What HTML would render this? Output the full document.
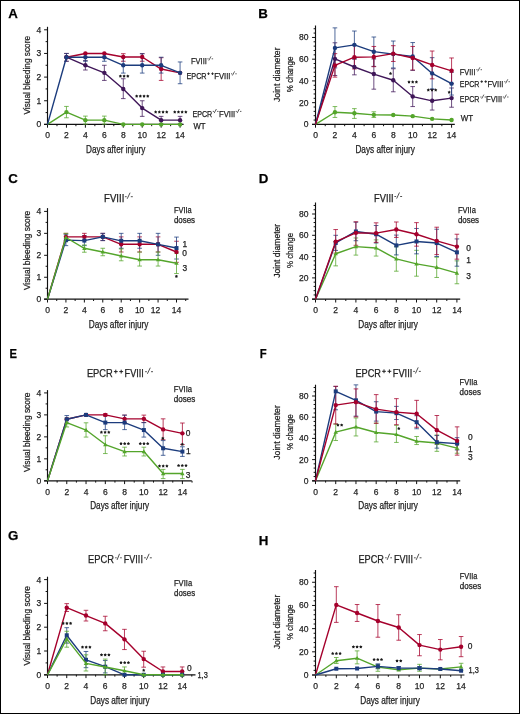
<!DOCTYPE html>
<html><head><meta charset="utf-8"><style>
html,body{margin:0;padding:0;background:#fff;}
svg{display:block;font-family:"Liberation Sans", sans-serif;will-change:transform;}
text{stroke:#1a1a1a;stroke-width:0.25px;paint-order:stroke;}
</style></head><body>
<svg width="520" height="714" viewBox="0 0 520 714">
<rect x="0" y="0" width="520" height="714" fill="#fff"/>
<line x1="47.50" y1="124.40" x2="47.50" y2="26.80" stroke="#111" stroke-width="1.15"/>
<line x1="44.10" y1="124.40" x2="183.60" y2="124.40" stroke="#111" stroke-width="1.2"/>
<line x1="44.10" y1="124.40" x2="47.50" y2="124.40" stroke="#111" stroke-width="1.0"/>
<text x="41.20" y="127.30" font-size="9.8" text-anchor="end" textLength="4.75" lengthAdjust="spacingAndGlyphs" fill="#222">0</text>
<line x1="44.10" y1="100.75" x2="47.50" y2="100.75" stroke="#111" stroke-width="1.0"/>
<text x="41.20" y="103.65" font-size="9.8" text-anchor="end" textLength="4.75" lengthAdjust="spacingAndGlyphs" fill="#222">1</text>
<line x1="44.10" y1="77.10" x2="47.50" y2="77.10" stroke="#111" stroke-width="1.0"/>
<text x="41.20" y="80.00" font-size="9.8" text-anchor="end" textLength="4.75" lengthAdjust="spacingAndGlyphs" fill="#222">2</text>
<line x1="44.10" y1="53.45" x2="47.50" y2="53.45" stroke="#111" stroke-width="1.0"/>
<text x="41.20" y="56.35" font-size="9.8" text-anchor="end" textLength="4.75" lengthAdjust="spacingAndGlyphs" fill="#222">3</text>
<line x1="44.10" y1="29.80" x2="47.50" y2="29.80" stroke="#111" stroke-width="1.0"/>
<text x="41.20" y="32.70" font-size="9.8" text-anchor="end" textLength="4.75" lengthAdjust="spacingAndGlyphs" fill="#222">4</text>
<line x1="45.60" y1="112.58" x2="47.50" y2="112.58" stroke="#111" stroke-width="1.0"/>
<line x1="45.60" y1="88.93" x2="47.50" y2="88.93" stroke="#111" stroke-width="1.0"/>
<line x1="45.60" y1="65.28" x2="47.50" y2="65.28" stroke="#111" stroke-width="1.0"/>
<line x1="45.60" y1="41.63" x2="47.50" y2="41.63" stroke="#111" stroke-width="1.0"/>
<line x1="47.50" y1="124.40" x2="47.50" y2="127.70" stroke="#111" stroke-width="1.0"/>
<line x1="66.44" y1="124.40" x2="66.44" y2="127.70" stroke="#111" stroke-width="1.0"/>
<line x1="85.38" y1="124.40" x2="85.38" y2="127.70" stroke="#111" stroke-width="1.0"/>
<line x1="104.33" y1="124.40" x2="104.33" y2="127.70" stroke="#111" stroke-width="1.0"/>
<line x1="123.27" y1="124.40" x2="123.27" y2="127.70" stroke="#111" stroke-width="1.0"/>
<line x1="142.21" y1="124.40" x2="142.21" y2="127.70" stroke="#111" stroke-width="1.0"/>
<line x1="161.15" y1="124.40" x2="161.15" y2="127.70" stroke="#111" stroke-width="1.0"/>
<line x1="180.09" y1="124.40" x2="180.09" y2="127.70" stroke="#111" stroke-width="1.0"/>
<line x1="56.97" y1="124.40" x2="56.97" y2="126.20" stroke="#111" stroke-width="1.0"/>
<line x1="75.91" y1="124.40" x2="75.91" y2="126.20" stroke="#111" stroke-width="1.0"/>
<line x1="94.86" y1="124.40" x2="94.86" y2="126.20" stroke="#111" stroke-width="1.0"/>
<line x1="113.80" y1="124.40" x2="113.80" y2="126.20" stroke="#111" stroke-width="1.0"/>
<line x1="132.74" y1="124.40" x2="132.74" y2="126.20" stroke="#111" stroke-width="1.0"/>
<line x1="151.68" y1="124.40" x2="151.68" y2="126.20" stroke="#111" stroke-width="1.0"/>
<line x1="170.62" y1="124.40" x2="170.62" y2="126.20" stroke="#111" stroke-width="1.0"/>
<text x="47.50" y="138.40" font-size="9.8" text-anchor="middle" textLength="4.75" lengthAdjust="spacingAndGlyphs" fill="#222">0</text>
<text x="66.44" y="138.40" font-size="9.8" text-anchor="middle" textLength="4.75" lengthAdjust="spacingAndGlyphs" fill="#222">2</text>
<text x="85.38" y="138.40" font-size="9.8" text-anchor="middle" textLength="4.75" lengthAdjust="spacingAndGlyphs" fill="#222">4</text>
<text x="104.33" y="138.40" font-size="9.8" text-anchor="middle" textLength="4.75" lengthAdjust="spacingAndGlyphs" fill="#222">6</text>
<text x="123.27" y="138.40" font-size="9.8" text-anchor="middle" textLength="4.75" lengthAdjust="spacingAndGlyphs" fill="#222">8</text>
<text x="142.21" y="138.40" font-size="9.8" text-anchor="middle" textLength="9.50" lengthAdjust="spacingAndGlyphs" fill="#222">10</text>
<text x="161.15" y="138.40" font-size="9.8" text-anchor="middle" textLength="9.50" lengthAdjust="spacingAndGlyphs" fill="#222">12</text>
<text x="180.09" y="138.40" font-size="9.8" text-anchor="middle" textLength="9.50" lengthAdjust="spacingAndGlyphs" fill="#222">14</text>
<text x="86.10" y="152.80" font-size="10.2" textLength="59.20" lengthAdjust="spacingAndGlyphs" fill="#222">Days after injury</text>
<text transform="translate(29.60,75.25) rotate(-90)" x="0" y="0" font-size="9.9" text-anchor="middle" textLength="78.70" lengthAdjust="spacingAndGlyphs" fill="#222">Visual bleeding score</text>
<line x1="66.44" y1="117.78" x2="66.44" y2="106.43" stroke="#54a52b" stroke-width="0.9" stroke-opacity="0.85"/>
<line x1="64.14" y1="117.78" x2="68.74" y2="117.78" stroke="#54a52b" stroke-width="0.9" stroke-opacity="0.85"/>
<line x1="64.14" y1="106.43" x2="68.74" y2="106.43" stroke="#54a52b" stroke-width="0.9" stroke-opacity="0.85"/>
<line x1="85.38" y1="124.16" x2="85.38" y2="116.12" stroke="#54a52b" stroke-width="0.9" stroke-opacity="0.85"/>
<line x1="83.08" y1="124.16" x2="87.68" y2="124.16" stroke="#54a52b" stroke-width="0.9" stroke-opacity="0.85"/>
<line x1="83.08" y1="116.12" x2="87.68" y2="116.12" stroke="#54a52b" stroke-width="0.9" stroke-opacity="0.85"/>
<line x1="104.33" y1="124.16" x2="104.33" y2="116.12" stroke="#54a52b" stroke-width="0.9" stroke-opacity="0.85"/>
<line x1="102.03" y1="124.16" x2="106.63" y2="124.16" stroke="#54a52b" stroke-width="0.9" stroke-opacity="0.85"/>
<line x1="102.03" y1="116.12" x2="106.63" y2="116.12" stroke="#54a52b" stroke-width="0.9" stroke-opacity="0.85"/>
<line x1="85.38" y1="70.01" x2="85.38" y2="60.55" stroke="#3f1658" stroke-width="0.9" stroke-opacity="0.85"/>
<line x1="83.08" y1="70.01" x2="87.68" y2="70.01" stroke="#3f1658" stroke-width="0.9" stroke-opacity="0.85"/>
<line x1="83.08" y1="60.55" x2="87.68" y2="60.55" stroke="#3f1658" stroke-width="0.9" stroke-opacity="0.85"/>
<line x1="104.33" y1="80.41" x2="104.33" y2="65.28" stroke="#3f1658" stroke-width="0.9" stroke-opacity="0.85"/>
<line x1="102.03" y1="80.41" x2="106.63" y2="80.41" stroke="#3f1658" stroke-width="0.9" stroke-opacity="0.85"/>
<line x1="102.03" y1="65.28" x2="106.63" y2="65.28" stroke="#3f1658" stroke-width="0.9" stroke-opacity="0.85"/>
<line x1="123.27" y1="98.62" x2="123.27" y2="78.76" stroke="#3f1658" stroke-width="0.9" stroke-opacity="0.85"/>
<line x1="120.97" y1="98.62" x2="125.57" y2="98.62" stroke="#3f1658" stroke-width="0.9" stroke-opacity="0.85"/>
<line x1="120.97" y1="78.76" x2="125.57" y2="78.76" stroke="#3f1658" stroke-width="0.9" stroke-opacity="0.85"/>
<line x1="142.21" y1="116.36" x2="142.21" y2="100.75" stroke="#3f1658" stroke-width="0.9" stroke-opacity="0.85"/>
<line x1="139.91" y1="116.36" x2="144.51" y2="116.36" stroke="#3f1658" stroke-width="0.9" stroke-opacity="0.85"/>
<line x1="139.91" y1="100.75" x2="144.51" y2="100.75" stroke="#3f1658" stroke-width="0.9" stroke-opacity="0.85"/>
<line x1="161.15" y1="123.93" x2="161.15" y2="116.36" stroke="#3f1658" stroke-width="0.9" stroke-opacity="0.85"/>
<line x1="158.85" y1="123.93" x2="163.45" y2="123.93" stroke="#3f1658" stroke-width="0.9" stroke-opacity="0.85"/>
<line x1="158.85" y1="116.36" x2="163.45" y2="116.36" stroke="#3f1658" stroke-width="0.9" stroke-opacity="0.85"/>
<line x1="180.09" y1="123.93" x2="180.09" y2="116.36" stroke="#3f1658" stroke-width="0.9" stroke-opacity="0.85"/>
<line x1="177.79" y1="123.93" x2="182.39" y2="123.93" stroke="#3f1658" stroke-width="0.9" stroke-opacity="0.85"/>
<line x1="177.79" y1="116.36" x2="182.39" y2="116.36" stroke="#3f1658" stroke-width="0.9" stroke-opacity="0.85"/>
<line x1="66.44" y1="61.25" x2="66.44" y2="53.45" stroke="#a5002c" stroke-width="0.9" stroke-opacity="0.85"/>
<line x1="64.14" y1="61.25" x2="68.74" y2="61.25" stroke="#a5002c" stroke-width="0.9" stroke-opacity="0.85"/>
<line x1="64.14" y1="53.45" x2="68.74" y2="53.45" stroke="#a5002c" stroke-width="0.9" stroke-opacity="0.85"/>
<line x1="85.38" y1="57.23" x2="85.38" y2="53.45" stroke="#a5002c" stroke-width="0.9" stroke-opacity="0.85"/>
<line x1="83.08" y1="57.23" x2="87.68" y2="57.23" stroke="#a5002c" stroke-width="0.9" stroke-opacity="0.85"/>
<line x1="83.08" y1="53.45" x2="87.68" y2="53.45" stroke="#a5002c" stroke-width="0.9" stroke-opacity="0.85"/>
<line x1="104.33" y1="57.23" x2="104.33" y2="53.45" stroke="#a5002c" stroke-width="0.9" stroke-opacity="0.85"/>
<line x1="102.03" y1="57.23" x2="106.63" y2="57.23" stroke="#a5002c" stroke-width="0.9" stroke-opacity="0.85"/>
<line x1="102.03" y1="53.45" x2="106.63" y2="53.45" stroke="#a5002c" stroke-width="0.9" stroke-opacity="0.85"/>
<line x1="123.27" y1="61.25" x2="123.27" y2="53.69" stroke="#a5002c" stroke-width="0.9" stroke-opacity="0.85"/>
<line x1="120.97" y1="61.25" x2="125.57" y2="61.25" stroke="#a5002c" stroke-width="0.9" stroke-opacity="0.85"/>
<line x1="120.97" y1="53.69" x2="125.57" y2="53.69" stroke="#a5002c" stroke-width="0.9" stroke-opacity="0.85"/>
<line x1="142.21" y1="61.25" x2="142.21" y2="53.69" stroke="#a5002c" stroke-width="0.9" stroke-opacity="0.85"/>
<line x1="139.91" y1="61.25" x2="144.51" y2="61.25" stroke="#a5002c" stroke-width="0.9" stroke-opacity="0.85"/>
<line x1="139.91" y1="53.69" x2="144.51" y2="53.69" stroke="#a5002c" stroke-width="0.9" stroke-opacity="0.85"/>
<line x1="161.15" y1="80.41" x2="161.15" y2="57.71" stroke="#a5002c" stroke-width="0.9" stroke-opacity="0.85"/>
<line x1="158.85" y1="80.41" x2="163.45" y2="80.41" stroke="#a5002c" stroke-width="0.9" stroke-opacity="0.85"/>
<line x1="158.85" y1="57.71" x2="163.45" y2="57.71" stroke="#a5002c" stroke-width="0.9" stroke-opacity="0.85"/>
<line x1="66.44" y1="61.25" x2="66.44" y2="53.45" stroke="#1c3c7d" stroke-width="0.9" stroke-opacity="0.85"/>
<line x1="64.14" y1="61.25" x2="68.74" y2="61.25" stroke="#1c3c7d" stroke-width="0.9" stroke-opacity="0.85"/>
<line x1="64.14" y1="53.45" x2="68.74" y2="53.45" stroke="#1c3c7d" stroke-width="0.9" stroke-opacity="0.85"/>
<line x1="85.38" y1="61.25" x2="85.38" y2="53.45" stroke="#1c3c7d" stroke-width="0.9" stroke-opacity="0.85"/>
<line x1="83.08" y1="61.25" x2="87.68" y2="61.25" stroke="#1c3c7d" stroke-width="0.9" stroke-opacity="0.85"/>
<line x1="83.08" y1="53.45" x2="87.68" y2="53.45" stroke="#1c3c7d" stroke-width="0.9" stroke-opacity="0.85"/>
<line x1="104.33" y1="61.25" x2="104.33" y2="53.45" stroke="#1c3c7d" stroke-width="0.9" stroke-opacity="0.85"/>
<line x1="102.03" y1="61.25" x2="106.63" y2="61.25" stroke="#1c3c7d" stroke-width="0.9" stroke-opacity="0.85"/>
<line x1="102.03" y1="53.45" x2="106.63" y2="53.45" stroke="#1c3c7d" stroke-width="0.9" stroke-opacity="0.85"/>
<line x1="123.27" y1="73.08" x2="123.27" y2="57.23" stroke="#1c3c7d" stroke-width="0.9" stroke-opacity="0.85"/>
<line x1="120.97" y1="73.08" x2="125.57" y2="73.08" stroke="#1c3c7d" stroke-width="0.9" stroke-opacity="0.85"/>
<line x1="120.97" y1="57.23" x2="125.57" y2="57.23" stroke="#1c3c7d" stroke-width="0.9" stroke-opacity="0.85"/>
<line x1="142.21" y1="73.08" x2="142.21" y2="53.69" stroke="#1c3c7d" stroke-width="0.9" stroke-opacity="0.85"/>
<line x1="139.91" y1="73.08" x2="144.51" y2="73.08" stroke="#1c3c7d" stroke-width="0.9" stroke-opacity="0.85"/>
<line x1="139.91" y1="53.69" x2="144.51" y2="53.69" stroke="#1c3c7d" stroke-width="0.9" stroke-opacity="0.85"/>
<line x1="161.15" y1="73.08" x2="161.15" y2="57.23" stroke="#1c3c7d" stroke-width="0.9" stroke-opacity="0.85"/>
<line x1="158.85" y1="73.08" x2="163.45" y2="73.08" stroke="#1c3c7d" stroke-width="0.9" stroke-opacity="0.85"/>
<line x1="158.85" y1="57.23" x2="163.45" y2="57.23" stroke="#1c3c7d" stroke-width="0.9" stroke-opacity="0.85"/>
<line x1="180.09" y1="83.72" x2="180.09" y2="61.96" stroke="#1c3c7d" stroke-width="0.9" stroke-opacity="0.85"/>
<line x1="177.79" y1="83.72" x2="182.39" y2="83.72" stroke="#1c3c7d" stroke-width="0.9" stroke-opacity="0.85"/>
<line x1="177.79" y1="61.96" x2="182.39" y2="61.96" stroke="#1c3c7d" stroke-width="0.9" stroke-opacity="0.85"/>
<polyline points="47.50,124.40 66.44,112.10 85.38,120.14 104.33,120.14 123.27,124.40 142.21,124.40 161.15,124.40 180.09,124.40" fill="none" stroke="#54a52b" stroke-width="1.4" stroke-linejoin="round"/>
<circle cx="66.44" cy="112.10" r="2.2" fill="#54a52b"/>
<circle cx="85.38" cy="120.14" r="2.2" fill="#54a52b"/>
<circle cx="104.33" cy="120.14" r="2.2" fill="#54a52b"/>
<circle cx="123.27" cy="124.40" r="2.2" fill="#54a52b"/>
<circle cx="142.21" cy="124.40" r="2.2" fill="#54a52b"/>
<circle cx="161.15" cy="124.40" r="2.2" fill="#54a52b"/>
<circle cx="180.09" cy="124.40" r="2.2" fill="#54a52b"/>
<polyline points="66.44,57.23 85.38,65.28 104.33,72.84 123.27,88.93 142.21,108.08 161.15,120.14 180.09,120.14" fill="none" stroke="#3f1658" stroke-width="1.4" stroke-linejoin="round"/>
<circle cx="66.44" cy="57.23" r="2.2" fill="#3f1658"/>
<circle cx="85.38" cy="65.28" r="2.2" fill="#3f1658"/>
<circle cx="104.33" cy="72.84" r="2.2" fill="#3f1658"/>
<circle cx="123.27" cy="88.93" r="2.2" fill="#3f1658"/>
<circle cx="142.21" cy="108.08" r="2.2" fill="#3f1658"/>
<circle cx="161.15" cy="120.14" r="2.2" fill="#3f1658"/>
<circle cx="180.09" cy="120.14" r="2.2" fill="#3f1658"/>
<polyline points="66.44,57.23 85.38,53.45 104.33,53.45 123.27,57.00 142.21,57.00 161.15,69.06 180.09,72.84" fill="none" stroke="#a5002c" stroke-width="1.4" stroke-linejoin="round"/>
<circle cx="66.44" cy="57.23" r="2.2" fill="#a5002c"/>
<circle cx="85.38" cy="53.45" r="2.2" fill="#a5002c"/>
<circle cx="104.33" cy="53.45" r="2.2" fill="#a5002c"/>
<circle cx="123.27" cy="57.00" r="2.2" fill="#a5002c"/>
<circle cx="142.21" cy="57.00" r="2.2" fill="#a5002c"/>
<circle cx="161.15" cy="69.06" r="2.2" fill="#a5002c"/>
<circle cx="180.09" cy="72.84" r="2.2" fill="#a5002c"/>
<polyline points="47.50,124.40 66.44,57.23 85.38,57.23 104.33,57.23 123.27,65.28 142.21,65.28 161.15,65.28 180.09,72.84" fill="none" stroke="#1c3c7d" stroke-width="1.4" stroke-linejoin="round"/>
<circle cx="66.44" cy="57.23" r="2.2" fill="#1c3c7d"/>
<circle cx="85.38" cy="57.23" r="2.2" fill="#1c3c7d"/>
<circle cx="104.33" cy="57.23" r="2.2" fill="#1c3c7d"/>
<circle cx="123.27" cy="65.28" r="2.2" fill="#1c3c7d"/>
<circle cx="142.21" cy="65.28" r="2.2" fill="#1c3c7d"/>
<circle cx="161.15" cy="65.28" r="2.2" fill="#1c3c7d"/>
<circle cx="180.09" cy="72.84" r="2.2" fill="#1c3c7d"/>
<polygon points="120.40,74.50 119.80,75.37 118.78,75.67 119.43,76.52 119.40,77.58 120.40,77.22 121.40,77.58 121.37,76.52 122.02,75.67 121.00,75.37" fill="#1a1a1a"/>
<polygon points="124.10,74.50 123.50,75.37 122.48,75.67 123.13,76.52 123.10,77.58 124.10,77.22 125.10,77.58 125.07,76.52 125.72,75.67 124.70,75.37" fill="#1a1a1a"/>
<polygon points="127.80,74.50 127.20,75.37 126.18,75.67 126.83,76.52 126.80,77.58 127.80,77.22 128.80,77.58 128.77,76.52 129.42,75.67 128.40,75.37" fill="#1a1a1a"/>
<polygon points="136.65,94.50 136.05,95.37 135.03,95.67 135.68,96.52 135.65,97.58 136.65,97.22 137.65,97.58 137.62,96.52 138.27,95.67 137.25,95.37" fill="#1a1a1a"/>
<polygon points="140.35,94.50 139.75,95.37 138.73,95.67 139.38,96.52 139.35,97.58 140.35,97.22 141.35,97.58 141.32,96.52 141.97,95.67 140.95,95.37" fill="#1a1a1a"/>
<polygon points="144.05,94.50 143.45,95.37 142.43,95.67 143.08,96.52 143.05,97.58 144.05,97.22 145.05,97.58 145.02,96.52 145.67,95.67 144.65,95.37" fill="#1a1a1a"/>
<polygon points="147.75,94.50 147.15,95.37 146.13,95.67 146.78,96.52 146.75,97.58 147.75,97.22 148.75,97.58 148.72,96.52 149.37,95.67 148.35,95.37" fill="#1a1a1a"/>
<polygon points="155.65,110.30 155.05,111.17 154.03,111.47 154.68,112.32 154.65,113.38 155.65,113.02 156.65,113.38 156.62,112.32 157.27,111.47 156.25,111.17" fill="#1a1a1a"/>
<polygon points="159.35,110.30 158.75,111.17 157.73,111.47 158.38,112.32 158.35,113.38 159.35,113.02 160.35,113.38 160.32,112.32 160.97,111.47 159.95,111.17" fill="#1a1a1a"/>
<polygon points="163.05,110.30 162.45,111.17 161.43,111.47 162.08,112.32 162.05,113.38 163.05,113.02 164.05,113.38 164.02,112.32 164.67,111.47 163.65,111.17" fill="#1a1a1a"/>
<polygon points="166.75,110.30 166.15,111.17 165.13,111.47 165.78,112.32 165.75,113.38 166.75,113.02 167.75,113.38 167.72,112.32 168.37,111.47 167.35,111.17" fill="#1a1a1a"/>
<polygon points="174.75,110.30 174.15,111.17 173.13,111.47 173.78,112.32 173.75,113.38 174.75,113.02 175.75,113.38 175.72,112.32 176.37,111.47 175.35,111.17" fill="#1a1a1a"/>
<polygon points="178.45,110.30 177.85,111.17 176.83,111.47 177.48,112.32 177.45,113.38 178.45,113.02 179.45,113.38 179.42,112.32 180.07,111.47 179.05,111.17" fill="#1a1a1a"/>
<polygon points="182.15,110.30 181.55,111.17 180.53,111.47 181.18,112.32 181.15,113.38 182.15,113.02 183.15,113.38 183.12,112.32 183.77,111.47 182.75,111.17" fill="#1a1a1a"/>
<polygon points="185.85,110.30 185.25,111.17 184.23,111.47 184.88,112.32 184.85,113.38 185.85,113.02 186.85,113.38 186.82,112.32 187.47,111.47 186.45,111.17" fill="#1a1a1a"/>
<line x1="315.50" y1="124.40" x2="315.50" y2="25.50" stroke="#111" stroke-width="1.15"/>
<line x1="312.10" y1="124.40" x2="454.80" y2="124.40" stroke="#111" stroke-width="1.2"/>
<line x1="312.10" y1="124.40" x2="315.50" y2="124.40" stroke="#111" stroke-width="1.0"/>
<text x="308.60" y="127.30" font-size="9.8" text-anchor="end" textLength="4.75" lengthAdjust="spacingAndGlyphs" fill="#222">0</text>
<line x1="312.10" y1="102.66" x2="315.50" y2="102.66" stroke="#111" stroke-width="1.0"/>
<text x="308.60" y="105.56" font-size="9.8" text-anchor="end" textLength="9.50" lengthAdjust="spacingAndGlyphs" fill="#222">20</text>
<line x1="312.10" y1="80.92" x2="315.50" y2="80.92" stroke="#111" stroke-width="1.0"/>
<text x="308.60" y="83.82" font-size="9.8" text-anchor="end" textLength="9.50" lengthAdjust="spacingAndGlyphs" fill="#222">40</text>
<line x1="312.10" y1="59.18" x2="315.50" y2="59.18" stroke="#111" stroke-width="1.0"/>
<text x="308.60" y="62.08" font-size="9.8" text-anchor="end" textLength="9.50" lengthAdjust="spacingAndGlyphs" fill="#222">60</text>
<line x1="312.10" y1="37.44" x2="315.50" y2="37.44" stroke="#111" stroke-width="1.0"/>
<text x="308.60" y="40.34" font-size="9.8" text-anchor="end" textLength="9.50" lengthAdjust="spacingAndGlyphs" fill="#222">80</text>
<line x1="313.60" y1="120.05" x2="315.50" y2="120.05" stroke="#111" stroke-width="1.0"/>
<line x1="313.60" y1="115.70" x2="315.50" y2="115.70" stroke="#111" stroke-width="1.0"/>
<line x1="313.60" y1="111.36" x2="315.50" y2="111.36" stroke="#111" stroke-width="1.0"/>
<line x1="313.60" y1="107.01" x2="315.50" y2="107.01" stroke="#111" stroke-width="1.0"/>
<line x1="313.60" y1="98.31" x2="315.50" y2="98.31" stroke="#111" stroke-width="1.0"/>
<line x1="313.60" y1="93.96" x2="315.50" y2="93.96" stroke="#111" stroke-width="1.0"/>
<line x1="313.60" y1="89.62" x2="315.50" y2="89.62" stroke="#111" stroke-width="1.0"/>
<line x1="313.60" y1="85.27" x2="315.50" y2="85.27" stroke="#111" stroke-width="1.0"/>
<line x1="313.60" y1="76.57" x2="315.50" y2="76.57" stroke="#111" stroke-width="1.0"/>
<line x1="313.60" y1="72.22" x2="315.50" y2="72.22" stroke="#111" stroke-width="1.0"/>
<line x1="313.60" y1="67.88" x2="315.50" y2="67.88" stroke="#111" stroke-width="1.0"/>
<line x1="313.60" y1="63.53" x2="315.50" y2="63.53" stroke="#111" stroke-width="1.0"/>
<line x1="313.60" y1="54.83" x2="315.50" y2="54.83" stroke="#111" stroke-width="1.0"/>
<line x1="313.60" y1="50.48" x2="315.50" y2="50.48" stroke="#111" stroke-width="1.0"/>
<line x1="313.60" y1="46.14" x2="315.50" y2="46.14" stroke="#111" stroke-width="1.0"/>
<line x1="313.60" y1="41.79" x2="315.50" y2="41.79" stroke="#111" stroke-width="1.0"/>
<line x1="313.60" y1="33.09" x2="315.50" y2="33.09" stroke="#111" stroke-width="1.0"/>
<line x1="313.60" y1="28.74" x2="315.50" y2="28.74" stroke="#111" stroke-width="1.0"/>
<line x1="315.50" y1="124.40" x2="315.50" y2="127.70" stroke="#111" stroke-width="1.0"/>
<line x1="334.94" y1="124.40" x2="334.94" y2="127.70" stroke="#111" stroke-width="1.0"/>
<line x1="354.38" y1="124.40" x2="354.38" y2="127.70" stroke="#111" stroke-width="1.0"/>
<line x1="373.83" y1="124.40" x2="373.83" y2="127.70" stroke="#111" stroke-width="1.0"/>
<line x1="393.27" y1="124.40" x2="393.27" y2="127.70" stroke="#111" stroke-width="1.0"/>
<line x1="412.71" y1="124.40" x2="412.71" y2="127.70" stroke="#111" stroke-width="1.0"/>
<line x1="432.15" y1="124.40" x2="432.15" y2="127.70" stroke="#111" stroke-width="1.0"/>
<line x1="451.59" y1="124.40" x2="451.59" y2="127.70" stroke="#111" stroke-width="1.0"/>
<line x1="325.22" y1="124.40" x2="325.22" y2="126.20" stroke="#111" stroke-width="1.0"/>
<line x1="344.66" y1="124.40" x2="344.66" y2="126.20" stroke="#111" stroke-width="1.0"/>
<line x1="364.11" y1="124.40" x2="364.11" y2="126.20" stroke="#111" stroke-width="1.0"/>
<line x1="383.55" y1="124.40" x2="383.55" y2="126.20" stroke="#111" stroke-width="1.0"/>
<line x1="402.99" y1="124.40" x2="402.99" y2="126.20" stroke="#111" stroke-width="1.0"/>
<line x1="422.43" y1="124.40" x2="422.43" y2="126.20" stroke="#111" stroke-width="1.0"/>
<line x1="441.87" y1="124.40" x2="441.87" y2="126.20" stroke="#111" stroke-width="1.0"/>
<text x="315.50" y="138.40" font-size="9.8" text-anchor="middle" textLength="4.75" lengthAdjust="spacingAndGlyphs" fill="#222">0</text>
<text x="334.94" y="138.40" font-size="9.8" text-anchor="middle" textLength="4.75" lengthAdjust="spacingAndGlyphs" fill="#222">2</text>
<text x="354.38" y="138.40" font-size="9.8" text-anchor="middle" textLength="4.75" lengthAdjust="spacingAndGlyphs" fill="#222">4</text>
<text x="373.83" y="138.40" font-size="9.8" text-anchor="middle" textLength="4.75" lengthAdjust="spacingAndGlyphs" fill="#222">6</text>
<text x="393.27" y="138.40" font-size="9.8" text-anchor="middle" textLength="4.75" lengthAdjust="spacingAndGlyphs" fill="#222">8</text>
<text x="412.71" y="138.40" font-size="9.8" text-anchor="middle" textLength="9.50" lengthAdjust="spacingAndGlyphs" fill="#222">10</text>
<text x="432.15" y="138.40" font-size="9.8" text-anchor="middle" textLength="9.50" lengthAdjust="spacingAndGlyphs" fill="#222">12</text>
<text x="451.59" y="138.40" font-size="9.8" text-anchor="middle" textLength="9.50" lengthAdjust="spacingAndGlyphs" fill="#222">14</text>
<text x="355.40" y="152.60" font-size="10.2" textLength="59.60" lengthAdjust="spacingAndGlyphs" fill="#222">Days after injury</text>
<text transform="translate(280.40,74.70) rotate(-90)" x="0" y="0" font-size="9.9" text-anchor="middle" textLength="54.60" lengthAdjust="spacingAndGlyphs" fill="#222">Joint diameter</text>
<text transform="translate(292.50,74.35) rotate(-90)" x="0" y="0" font-size="9.9" text-anchor="middle" textLength="35.70" lengthAdjust="spacingAndGlyphs" fill="#222">% change</text>
<line x1="334.94" y1="117.44" x2="334.94" y2="106.57" stroke="#54a52b" stroke-width="0.9" stroke-opacity="0.85"/>
<line x1="332.64" y1="117.44" x2="337.24" y2="117.44" stroke="#54a52b" stroke-width="0.9" stroke-opacity="0.85"/>
<line x1="332.64" y1="106.57" x2="337.24" y2="106.57" stroke="#54a52b" stroke-width="0.9" stroke-opacity="0.85"/>
<line x1="354.38" y1="118.42" x2="354.38" y2="108.64" stroke="#54a52b" stroke-width="0.9" stroke-opacity="0.85"/>
<line x1="352.08" y1="118.42" x2="356.68" y2="118.42" stroke="#54a52b" stroke-width="0.9" stroke-opacity="0.85"/>
<line x1="352.08" y1="108.64" x2="356.68" y2="108.64" stroke="#54a52b" stroke-width="0.9" stroke-opacity="0.85"/>
<line x1="373.83" y1="117.44" x2="373.83" y2="111.79" stroke="#54a52b" stroke-width="0.9" stroke-opacity="0.85"/>
<line x1="371.53" y1="117.44" x2="376.13" y2="117.44" stroke="#54a52b" stroke-width="0.9" stroke-opacity="0.85"/>
<line x1="371.53" y1="111.79" x2="376.13" y2="111.79" stroke="#54a52b" stroke-width="0.9" stroke-opacity="0.85"/>
<line x1="334.94" y1="75.49" x2="334.94" y2="42.77" stroke="#3f1658" stroke-width="0.9" stroke-opacity="0.85"/>
<line x1="332.64" y1="75.49" x2="337.24" y2="75.49" stroke="#3f1658" stroke-width="0.9" stroke-opacity="0.85"/>
<line x1="332.64" y1="42.77" x2="337.24" y2="42.77" stroke="#3f1658" stroke-width="0.9" stroke-opacity="0.85"/>
<line x1="354.38" y1="74.83" x2="354.38" y2="59.18" stroke="#3f1658" stroke-width="0.9" stroke-opacity="0.85"/>
<line x1="352.08" y1="74.83" x2="356.68" y2="74.83" stroke="#3f1658" stroke-width="0.9" stroke-opacity="0.85"/>
<line x1="352.08" y1="59.18" x2="356.68" y2="59.18" stroke="#3f1658" stroke-width="0.9" stroke-opacity="0.85"/>
<line x1="373.83" y1="89.18" x2="373.83" y2="58.96" stroke="#3f1658" stroke-width="0.9" stroke-opacity="0.85"/>
<line x1="371.53" y1="89.18" x2="376.13" y2="89.18" stroke="#3f1658" stroke-width="0.9" stroke-opacity="0.85"/>
<line x1="371.53" y1="58.96" x2="376.13" y2="58.96" stroke="#3f1658" stroke-width="0.9" stroke-opacity="0.85"/>
<line x1="393.27" y1="91.79" x2="393.27" y2="68.75" stroke="#3f1658" stroke-width="0.9" stroke-opacity="0.85"/>
<line x1="390.97" y1="91.79" x2="395.57" y2="91.79" stroke="#3f1658" stroke-width="0.9" stroke-opacity="0.85"/>
<line x1="390.97" y1="68.75" x2="395.57" y2="68.75" stroke="#3f1658" stroke-width="0.9" stroke-opacity="0.85"/>
<line x1="412.71" y1="106.57" x2="412.71" y2="86.57" stroke="#3f1658" stroke-width="0.9" stroke-opacity="0.85"/>
<line x1="410.41" y1="106.57" x2="415.01" y2="106.57" stroke="#3f1658" stroke-width="0.9" stroke-opacity="0.85"/>
<line x1="410.41" y1="86.57" x2="415.01" y2="86.57" stroke="#3f1658" stroke-width="0.9" stroke-opacity="0.85"/>
<line x1="432.15" y1="110.05" x2="432.15" y2="89.51" stroke="#3f1658" stroke-width="0.9" stroke-opacity="0.85"/>
<line x1="429.85" y1="110.05" x2="434.45" y2="110.05" stroke="#3f1658" stroke-width="0.9" stroke-opacity="0.85"/>
<line x1="429.85" y1="89.51" x2="434.45" y2="89.51" stroke="#3f1658" stroke-width="0.9" stroke-opacity="0.85"/>
<line x1="451.59" y1="107.23" x2="451.59" y2="87.99" stroke="#3f1658" stroke-width="0.9" stroke-opacity="0.85"/>
<line x1="449.29" y1="107.23" x2="453.89" y2="107.23" stroke="#3f1658" stroke-width="0.9" stroke-opacity="0.85"/>
<line x1="449.29" y1="87.99" x2="453.89" y2="87.99" stroke="#3f1658" stroke-width="0.9" stroke-opacity="0.85"/>
<line x1="334.94" y1="67.88" x2="334.94" y2="27.87" stroke="#1c3c7d" stroke-width="0.9" stroke-opacity="0.85"/>
<line x1="332.64" y1="67.88" x2="337.24" y2="67.88" stroke="#1c3c7d" stroke-width="0.9" stroke-opacity="0.85"/>
<line x1="332.64" y1="27.87" x2="337.24" y2="27.87" stroke="#1c3c7d" stroke-width="0.9" stroke-opacity="0.85"/>
<line x1="354.38" y1="58.64" x2="354.38" y2="31.03" stroke="#1c3c7d" stroke-width="0.9" stroke-opacity="0.85"/>
<line x1="352.08" y1="58.64" x2="356.68" y2="58.64" stroke="#1c3c7d" stroke-width="0.9" stroke-opacity="0.85"/>
<line x1="352.08" y1="31.03" x2="356.68" y2="31.03" stroke="#1c3c7d" stroke-width="0.9" stroke-opacity="0.85"/>
<line x1="373.83" y1="66.35" x2="373.83" y2="37.01" stroke="#1c3c7d" stroke-width="0.9" stroke-opacity="0.85"/>
<line x1="371.53" y1="66.35" x2="376.13" y2="66.35" stroke="#1c3c7d" stroke-width="0.9" stroke-opacity="0.85"/>
<line x1="371.53" y1="37.01" x2="376.13" y2="37.01" stroke="#1c3c7d" stroke-width="0.9" stroke-opacity="0.85"/>
<line x1="393.27" y1="67.98" x2="393.27" y2="41.03" stroke="#1c3c7d" stroke-width="0.9" stroke-opacity="0.85"/>
<line x1="390.97" y1="67.98" x2="395.57" y2="67.98" stroke="#1c3c7d" stroke-width="0.9" stroke-opacity="0.85"/>
<line x1="390.97" y1="41.03" x2="395.57" y2="41.03" stroke="#1c3c7d" stroke-width="0.9" stroke-opacity="0.85"/>
<line x1="412.71" y1="70.38" x2="412.71" y2="42.55" stroke="#1c3c7d" stroke-width="0.9" stroke-opacity="0.85"/>
<line x1="410.41" y1="70.38" x2="415.01" y2="70.38" stroke="#1c3c7d" stroke-width="0.9" stroke-opacity="0.85"/>
<line x1="410.41" y1="42.55" x2="415.01" y2="42.55" stroke="#1c3c7d" stroke-width="0.9" stroke-opacity="0.85"/>
<line x1="432.15" y1="88.86" x2="432.15" y2="57.66" stroke="#1c3c7d" stroke-width="0.9" stroke-opacity="0.85"/>
<line x1="429.85" y1="88.86" x2="434.45" y2="88.86" stroke="#1c3c7d" stroke-width="0.9" stroke-opacity="0.85"/>
<line x1="429.85" y1="57.66" x2="434.45" y2="57.66" stroke="#1c3c7d" stroke-width="0.9" stroke-opacity="0.85"/>
<line x1="451.59" y1="95.05" x2="451.59" y2="72.22" stroke="#1c3c7d" stroke-width="0.9" stroke-opacity="0.85"/>
<line x1="449.29" y1="95.05" x2="453.89" y2="95.05" stroke="#1c3c7d" stroke-width="0.9" stroke-opacity="0.85"/>
<line x1="449.29" y1="72.22" x2="453.89" y2="72.22" stroke="#1c3c7d" stroke-width="0.9" stroke-opacity="0.85"/>
<line x1="334.94" y1="77.12" x2="334.94" y2="53.64" stroke="#a5002c" stroke-width="0.9" stroke-opacity="0.85"/>
<line x1="332.64" y1="77.12" x2="337.24" y2="77.12" stroke="#a5002c" stroke-width="0.9" stroke-opacity="0.85"/>
<line x1="332.64" y1="53.64" x2="337.24" y2="53.64" stroke="#a5002c" stroke-width="0.9" stroke-opacity="0.85"/>
<line x1="354.38" y1="68.96" x2="354.38" y2="45.48" stroke="#a5002c" stroke-width="0.9" stroke-opacity="0.85"/>
<line x1="352.08" y1="68.96" x2="356.68" y2="68.96" stroke="#a5002c" stroke-width="0.9" stroke-opacity="0.85"/>
<line x1="352.08" y1="45.48" x2="356.68" y2="45.48" stroke="#a5002c" stroke-width="0.9" stroke-opacity="0.85"/>
<line x1="373.83" y1="66.68" x2="373.83" y2="46.46" stroke="#a5002c" stroke-width="0.9" stroke-opacity="0.85"/>
<line x1="371.53" y1="66.68" x2="376.13" y2="66.68" stroke="#a5002c" stroke-width="0.9" stroke-opacity="0.85"/>
<line x1="371.53" y1="46.46" x2="376.13" y2="46.46" stroke="#a5002c" stroke-width="0.9" stroke-opacity="0.85"/>
<line x1="393.27" y1="61.46" x2="393.27" y2="45.70" stroke="#a5002c" stroke-width="0.9" stroke-opacity="0.85"/>
<line x1="390.97" y1="61.46" x2="395.57" y2="61.46" stroke="#a5002c" stroke-width="0.9" stroke-opacity="0.85"/>
<line x1="390.97" y1="45.70" x2="395.57" y2="45.70" stroke="#a5002c" stroke-width="0.9" stroke-opacity="0.85"/>
<line x1="412.71" y1="70.05" x2="412.71" y2="46.46" stroke="#a5002c" stroke-width="0.9" stroke-opacity="0.85"/>
<line x1="410.41" y1="70.05" x2="415.01" y2="70.05" stroke="#a5002c" stroke-width="0.9" stroke-opacity="0.85"/>
<line x1="410.41" y1="46.46" x2="415.01" y2="46.46" stroke="#a5002c" stroke-width="0.9" stroke-opacity="0.85"/>
<line x1="432.15" y1="78.85" x2="432.15" y2="51.03" stroke="#a5002c" stroke-width="0.9" stroke-opacity="0.85"/>
<line x1="429.85" y1="78.85" x2="434.45" y2="78.85" stroke="#a5002c" stroke-width="0.9" stroke-opacity="0.85"/>
<line x1="429.85" y1="51.03" x2="434.45" y2="51.03" stroke="#a5002c" stroke-width="0.9" stroke-opacity="0.85"/>
<line x1="451.59" y1="83.64" x2="451.59" y2="57.98" stroke="#a5002c" stroke-width="0.9" stroke-opacity="0.85"/>
<line x1="449.29" y1="83.64" x2="453.89" y2="83.64" stroke="#a5002c" stroke-width="0.9" stroke-opacity="0.85"/>
<line x1="449.29" y1="57.98" x2="453.89" y2="57.98" stroke="#a5002c" stroke-width="0.9" stroke-opacity="0.85"/>
<polyline points="315.50,124.40 334.94,112.23 354.38,113.20 373.83,114.83 393.27,114.94 412.71,116.14 432.15,118.86 451.59,119.94" fill="none" stroke="#54a52b" stroke-width="1.4" stroke-linejoin="round"/>
<circle cx="334.94" cy="112.23" r="2.2" fill="#54a52b"/>
<circle cx="354.38" cy="113.20" r="2.2" fill="#54a52b"/>
<circle cx="373.83" cy="114.83" r="2.2" fill="#54a52b"/>
<circle cx="393.27" cy="114.94" r="2.2" fill="#54a52b"/>
<circle cx="412.71" cy="116.14" r="2.2" fill="#54a52b"/>
<circle cx="432.15" cy="118.86" r="2.2" fill="#54a52b"/>
<circle cx="451.59" cy="119.94" r="2.2" fill="#54a52b"/>
<polyline points="315.50,124.40 334.94,58.85 354.38,67.01 373.83,74.07 393.27,80.27 412.71,96.57 432.15,100.81 451.59,98.09" fill="none" stroke="#3f1658" stroke-width="1.4" stroke-linejoin="round"/>
<circle cx="334.94" cy="58.85" r="2.2" fill="#3f1658"/>
<circle cx="354.38" cy="67.01" r="2.2" fill="#3f1658"/>
<circle cx="373.83" cy="74.07" r="2.2" fill="#3f1658"/>
<circle cx="393.27" cy="80.27" r="2.2" fill="#3f1658"/>
<circle cx="412.71" cy="96.57" r="2.2" fill="#3f1658"/>
<circle cx="432.15" cy="100.81" r="2.2" fill="#3f1658"/>
<circle cx="451.59" cy="98.09" r="2.2" fill="#3f1658"/>
<polyline points="315.50,124.40 334.94,47.88 354.38,44.83 373.83,51.68 393.27,54.07 412.71,56.46 432.15,73.42 451.59,83.64" fill="none" stroke="#1c3c7d" stroke-width="1.4" stroke-linejoin="round"/>
<circle cx="334.94" cy="47.88" r="2.2" fill="#1c3c7d"/>
<circle cx="354.38" cy="44.83" r="2.2" fill="#1c3c7d"/>
<circle cx="373.83" cy="51.68" r="2.2" fill="#1c3c7d"/>
<circle cx="393.27" cy="54.07" r="2.2" fill="#1c3c7d"/>
<circle cx="412.71" cy="56.46" r="2.2" fill="#1c3c7d"/>
<circle cx="432.15" cy="73.42" r="2.2" fill="#1c3c7d"/>
<circle cx="451.59" cy="83.64" r="2.2" fill="#1c3c7d"/>
<polyline points="315.50,124.40 334.94,65.38 354.38,57.22 373.83,56.90 393.27,53.64 412.71,57.98 432.15,64.94 451.59,70.81" fill="none" stroke="#a5002c" stroke-width="1.4" stroke-linejoin="round"/>
<circle cx="334.94" cy="65.38" r="2.2" fill="#a5002c"/>
<circle cx="354.38" cy="57.22" r="2.2" fill="#a5002c"/>
<circle cx="373.83" cy="56.90" r="2.2" fill="#a5002c"/>
<circle cx="393.27" cy="53.64" r="2.2" fill="#a5002c"/>
<circle cx="412.71" cy="57.98" r="2.2" fill="#a5002c"/>
<circle cx="432.15" cy="64.94" r="2.2" fill="#a5002c"/>
<circle cx="451.59" cy="70.81" r="2.2" fill="#a5002c"/>
<polygon points="390.50,71.80 389.90,72.67 388.88,72.97 389.53,73.82 389.50,74.88 390.50,74.52 391.50,74.88 391.47,73.82 392.12,72.97 391.10,72.67" fill="#1a1a1a"/>
<polygon points="409.00,80.30 408.40,81.17 407.38,81.47 408.03,82.32 408.00,83.38 409.00,83.02 410.00,83.38 409.97,82.32 410.62,81.47 409.60,81.17" fill="#1a1a1a"/>
<polygon points="412.70,80.30 412.10,81.17 411.08,81.47 411.73,82.32 411.70,83.38 412.70,83.02 413.70,83.38 413.67,82.32 414.32,81.47 413.30,81.17" fill="#1a1a1a"/>
<polygon points="416.40,80.30 415.80,81.17 414.78,81.47 415.43,82.32 415.40,83.38 416.40,83.02 417.40,83.38 417.37,82.32 418.02,81.47 417.00,81.17" fill="#1a1a1a"/>
<polygon points="428.30,88.30 427.70,89.17 426.68,89.47 427.33,90.32 427.30,91.38 428.30,91.02 429.30,91.38 429.27,90.32 429.92,89.47 428.90,89.17" fill="#1a1a1a"/>
<polygon points="432.00,88.30 431.40,89.17 430.38,89.47 431.03,90.32 431.00,91.38 432.00,91.02 433.00,91.38 432.97,90.32 433.62,89.47 432.60,89.17" fill="#1a1a1a"/>
<polygon points="435.70,88.30 435.10,89.17 434.08,89.47 434.73,90.32 434.70,91.38 435.70,91.02 436.70,91.38 436.67,90.32 437.32,89.47 436.30,89.17" fill="#1a1a1a"/>
<polygon points="449.20,90.60 448.60,91.47 447.58,91.77 448.23,92.62 448.20,93.68 449.20,93.32 450.20,93.68 450.17,92.62 450.82,91.77 449.80,91.47" fill="#1a1a1a"/>
<line x1="47.50" y1="299.20" x2="47.50" y2="208.10" stroke="#111" stroke-width="1.15"/>
<line x1="44.10" y1="299.20" x2="188.50" y2="299.20" stroke="#111" stroke-width="1.2"/>
<line x1="44.10" y1="299.20" x2="47.50" y2="299.20" stroke="#111" stroke-width="1.0"/>
<text x="41.20" y="302.10" font-size="9.8" text-anchor="end" textLength="4.75" lengthAdjust="spacingAndGlyphs" fill="#222">0</text>
<line x1="44.10" y1="277.25" x2="47.50" y2="277.25" stroke="#111" stroke-width="1.0"/>
<text x="41.20" y="280.15" font-size="9.8" text-anchor="end" textLength="4.75" lengthAdjust="spacingAndGlyphs" fill="#222">1</text>
<line x1="44.10" y1="255.30" x2="47.50" y2="255.30" stroke="#111" stroke-width="1.0"/>
<text x="41.20" y="258.20" font-size="9.8" text-anchor="end" textLength="4.75" lengthAdjust="spacingAndGlyphs" fill="#222">2</text>
<line x1="44.10" y1="233.35" x2="47.50" y2="233.35" stroke="#111" stroke-width="1.0"/>
<text x="41.20" y="236.25" font-size="9.8" text-anchor="end" textLength="4.75" lengthAdjust="spacingAndGlyphs" fill="#222">3</text>
<line x1="44.10" y1="211.40" x2="47.50" y2="211.40" stroke="#111" stroke-width="1.0"/>
<text x="41.20" y="214.30" font-size="9.8" text-anchor="end" textLength="4.75" lengthAdjust="spacingAndGlyphs" fill="#222">4</text>
<line x1="45.60" y1="288.22" x2="47.50" y2="288.22" stroke="#111" stroke-width="1.0"/>
<line x1="45.60" y1="266.27" x2="47.50" y2="266.27" stroke="#111" stroke-width="1.0"/>
<line x1="45.60" y1="244.32" x2="47.50" y2="244.32" stroke="#111" stroke-width="1.0"/>
<line x1="45.60" y1="222.38" x2="47.50" y2="222.38" stroke="#111" stroke-width="1.0"/>
<line x1="47.50" y1="299.20" x2="47.50" y2="302.50" stroke="#111" stroke-width="1.0"/>
<line x1="65.93" y1="299.20" x2="65.93" y2="302.50" stroke="#111" stroke-width="1.0"/>
<line x1="84.36" y1="299.20" x2="84.36" y2="302.50" stroke="#111" stroke-width="1.0"/>
<line x1="102.78" y1="299.20" x2="102.78" y2="302.50" stroke="#111" stroke-width="1.0"/>
<line x1="121.21" y1="299.20" x2="121.21" y2="302.50" stroke="#111" stroke-width="1.0"/>
<line x1="139.64" y1="299.20" x2="139.64" y2="302.50" stroke="#111" stroke-width="1.0"/>
<line x1="158.07" y1="299.20" x2="158.07" y2="302.50" stroke="#111" stroke-width="1.0"/>
<line x1="176.50" y1="299.20" x2="176.50" y2="302.50" stroke="#111" stroke-width="1.0"/>
<line x1="56.71" y1="299.20" x2="56.71" y2="301.00" stroke="#111" stroke-width="1.0"/>
<line x1="75.14" y1="299.20" x2="75.14" y2="301.00" stroke="#111" stroke-width="1.0"/>
<line x1="93.57" y1="299.20" x2="93.57" y2="301.00" stroke="#111" stroke-width="1.0"/>
<line x1="112.00" y1="299.20" x2="112.00" y2="301.00" stroke="#111" stroke-width="1.0"/>
<line x1="130.43" y1="299.20" x2="130.43" y2="301.00" stroke="#111" stroke-width="1.0"/>
<line x1="148.85" y1="299.20" x2="148.85" y2="301.00" stroke="#111" stroke-width="1.0"/>
<line x1="167.28" y1="299.20" x2="167.28" y2="301.00" stroke="#111" stroke-width="1.0"/>
<line x1="185.71" y1="299.20" x2="185.71" y2="301.00" stroke="#111" stroke-width="1.0"/>
<text x="47.50" y="313.20" font-size="9.8" text-anchor="middle" textLength="4.75" lengthAdjust="spacingAndGlyphs" fill="#222">0</text>
<text x="65.93" y="313.20" font-size="9.8" text-anchor="middle" textLength="4.75" lengthAdjust="spacingAndGlyphs" fill="#222">2</text>
<text x="84.36" y="313.20" font-size="9.8" text-anchor="middle" textLength="4.75" lengthAdjust="spacingAndGlyphs" fill="#222">4</text>
<text x="102.78" y="313.20" font-size="9.8" text-anchor="middle" textLength="4.75" lengthAdjust="spacingAndGlyphs" fill="#222">6</text>
<text x="121.21" y="313.20" font-size="9.8" text-anchor="middle" textLength="4.75" lengthAdjust="spacingAndGlyphs" fill="#222">8</text>
<text x="139.64" y="313.20" font-size="9.8" text-anchor="middle" textLength="9.50" lengthAdjust="spacingAndGlyphs" fill="#222">10</text>
<text x="155.57" y="313.20" font-size="9.8" text-anchor="middle" textLength="9.50" lengthAdjust="spacingAndGlyphs" fill="#222">12</text>
<text x="176.50" y="313.20" font-size="9.8" text-anchor="middle" textLength="9.50" lengthAdjust="spacingAndGlyphs" fill="#222">14</text>
<text x="88.70" y="327.50" font-size="10.2" textLength="59.80" lengthAdjust="spacingAndGlyphs" fill="#222">Days after injury</text>
<text transform="translate(29.60,250.45) rotate(-90)" x="0" y="0" font-size="9.9" text-anchor="middle" textLength="79.30" lengthAdjust="spacingAndGlyphs" fill="#222">Visual bleeding score</text>
<line x1="65.93" y1="240.59" x2="65.93" y2="233.35" stroke="#a5002c" stroke-width="0.9" stroke-opacity="0.85"/>
<line x1="63.63" y1="240.59" x2="68.23" y2="240.59" stroke="#a5002c" stroke-width="0.9" stroke-opacity="0.85"/>
<line x1="63.63" y1="233.35" x2="68.23" y2="233.35" stroke="#a5002c" stroke-width="0.9" stroke-opacity="0.85"/>
<line x1="84.36" y1="240.15" x2="84.36" y2="233.35" stroke="#a5002c" stroke-width="0.9" stroke-opacity="0.85"/>
<line x1="82.06" y1="240.15" x2="86.66" y2="240.15" stroke="#a5002c" stroke-width="0.9" stroke-opacity="0.85"/>
<line x1="82.06" y1="233.35" x2="86.66" y2="233.35" stroke="#a5002c" stroke-width="0.9" stroke-opacity="0.85"/>
<line x1="102.78" y1="240.59" x2="102.78" y2="233.35" stroke="#a5002c" stroke-width="0.9" stroke-opacity="0.85"/>
<line x1="100.48" y1="240.59" x2="105.08" y2="240.59" stroke="#a5002c" stroke-width="0.9" stroke-opacity="0.85"/>
<line x1="100.48" y1="233.35" x2="105.08" y2="233.35" stroke="#a5002c" stroke-width="0.9" stroke-opacity="0.85"/>
<line x1="121.21" y1="252.01" x2="121.21" y2="236.86" stroke="#a5002c" stroke-width="0.9" stroke-opacity="0.85"/>
<line x1="118.91" y1="252.01" x2="123.51" y2="252.01" stroke="#a5002c" stroke-width="0.9" stroke-opacity="0.85"/>
<line x1="118.91" y1="236.86" x2="123.51" y2="236.86" stroke="#a5002c" stroke-width="0.9" stroke-opacity="0.85"/>
<line x1="139.64" y1="252.01" x2="139.64" y2="236.86" stroke="#a5002c" stroke-width="0.9" stroke-opacity="0.85"/>
<line x1="137.34" y1="252.01" x2="141.94" y2="252.01" stroke="#a5002c" stroke-width="0.9" stroke-opacity="0.85"/>
<line x1="137.34" y1="236.86" x2="141.94" y2="236.86" stroke="#a5002c" stroke-width="0.9" stroke-opacity="0.85"/>
<line x1="158.07" y1="252.01" x2="158.07" y2="236.86" stroke="#a5002c" stroke-width="0.9" stroke-opacity="0.85"/>
<line x1="155.77" y1="252.01" x2="160.37" y2="252.01" stroke="#a5002c" stroke-width="0.9" stroke-opacity="0.85"/>
<line x1="155.77" y1="236.86" x2="160.37" y2="236.86" stroke="#a5002c" stroke-width="0.9" stroke-opacity="0.85"/>
<line x1="176.50" y1="262.32" x2="176.50" y2="241.25" stroke="#a5002c" stroke-width="0.9" stroke-opacity="0.85"/>
<line x1="174.20" y1="262.32" x2="178.80" y2="262.32" stroke="#a5002c" stroke-width="0.9" stroke-opacity="0.85"/>
<line x1="174.20" y1="241.25" x2="178.80" y2="241.25" stroke="#a5002c" stroke-width="0.9" stroke-opacity="0.85"/>
<line x1="65.93" y1="245.64" x2="65.93" y2="234.67" stroke="#1c3c7d" stroke-width="0.9" stroke-opacity="0.85"/>
<line x1="63.63" y1="245.64" x2="68.23" y2="245.64" stroke="#1c3c7d" stroke-width="0.9" stroke-opacity="0.85"/>
<line x1="63.63" y1="234.67" x2="68.23" y2="234.67" stroke="#1c3c7d" stroke-width="0.9" stroke-opacity="0.85"/>
<line x1="84.36" y1="245.64" x2="84.36" y2="235.54" stroke="#1c3c7d" stroke-width="0.9" stroke-opacity="0.85"/>
<line x1="82.06" y1="245.64" x2="86.66" y2="245.64" stroke="#1c3c7d" stroke-width="0.9" stroke-opacity="0.85"/>
<line x1="82.06" y1="235.54" x2="86.66" y2="235.54" stroke="#1c3c7d" stroke-width="0.9" stroke-opacity="0.85"/>
<line x1="102.78" y1="240.59" x2="102.78" y2="233.35" stroke="#1c3c7d" stroke-width="0.9" stroke-opacity="0.85"/>
<line x1="100.48" y1="240.59" x2="105.08" y2="240.59" stroke="#1c3c7d" stroke-width="0.9" stroke-opacity="0.85"/>
<line x1="100.48" y1="233.35" x2="105.08" y2="233.35" stroke="#1c3c7d" stroke-width="0.9" stroke-opacity="0.85"/>
<line x1="121.21" y1="248.28" x2="121.21" y2="233.35" stroke="#1c3c7d" stroke-width="0.9" stroke-opacity="0.85"/>
<line x1="118.91" y1="248.28" x2="123.51" y2="248.28" stroke="#1c3c7d" stroke-width="0.9" stroke-opacity="0.85"/>
<line x1="118.91" y1="233.35" x2="123.51" y2="233.35" stroke="#1c3c7d" stroke-width="0.9" stroke-opacity="0.85"/>
<line x1="139.64" y1="248.28" x2="139.64" y2="233.35" stroke="#1c3c7d" stroke-width="0.9" stroke-opacity="0.85"/>
<line x1="137.34" y1="248.28" x2="141.94" y2="248.28" stroke="#1c3c7d" stroke-width="0.9" stroke-opacity="0.85"/>
<line x1="137.34" y1="233.35" x2="141.94" y2="233.35" stroke="#1c3c7d" stroke-width="0.9" stroke-opacity="0.85"/>
<line x1="158.07" y1="255.30" x2="158.07" y2="233.35" stroke="#1c3c7d" stroke-width="0.9" stroke-opacity="0.85"/>
<line x1="155.77" y1="255.30" x2="160.37" y2="255.30" stroke="#1c3c7d" stroke-width="0.9" stroke-opacity="0.85"/>
<line x1="155.77" y1="233.35" x2="160.37" y2="233.35" stroke="#1c3c7d" stroke-width="0.9" stroke-opacity="0.85"/>
<line x1="176.50" y1="259.03" x2="176.50" y2="237.08" stroke="#1c3c7d" stroke-width="0.9" stroke-opacity="0.85"/>
<line x1="174.20" y1="259.03" x2="178.80" y2="259.03" stroke="#1c3c7d" stroke-width="0.9" stroke-opacity="0.85"/>
<line x1="174.20" y1="237.08" x2="178.80" y2="237.08" stroke="#1c3c7d" stroke-width="0.9" stroke-opacity="0.85"/>
<line x1="65.93" y1="241.69" x2="65.93" y2="233.35" stroke="#54a52b" stroke-width="0.9" stroke-opacity="0.85"/>
<line x1="63.63" y1="241.69" x2="68.23" y2="241.69" stroke="#54a52b" stroke-width="0.9" stroke-opacity="0.85"/>
<line x1="63.63" y1="233.35" x2="68.23" y2="233.35" stroke="#54a52b" stroke-width="0.9" stroke-opacity="0.85"/>
<line x1="84.36" y1="252.23" x2="84.36" y2="244.98" stroke="#54a52b" stroke-width="0.9" stroke-opacity="0.85"/>
<line x1="82.06" y1="252.23" x2="86.66" y2="252.23" stroke="#54a52b" stroke-width="0.9" stroke-opacity="0.85"/>
<line x1="82.06" y1="244.98" x2="86.66" y2="244.98" stroke="#54a52b" stroke-width="0.9" stroke-opacity="0.85"/>
<line x1="102.78" y1="255.74" x2="102.78" y2="248.28" stroke="#54a52b" stroke-width="0.9" stroke-opacity="0.85"/>
<line x1="100.48" y1="255.74" x2="105.08" y2="255.74" stroke="#54a52b" stroke-width="0.9" stroke-opacity="0.85"/>
<line x1="100.48" y1="248.28" x2="105.08" y2="248.28" stroke="#54a52b" stroke-width="0.9" stroke-opacity="0.85"/>
<line x1="121.21" y1="260.79" x2="121.21" y2="248.93" stroke="#54a52b" stroke-width="0.9" stroke-opacity="0.85"/>
<line x1="118.91" y1="260.79" x2="123.51" y2="260.79" stroke="#54a52b" stroke-width="0.9" stroke-opacity="0.85"/>
<line x1="118.91" y1="248.93" x2="123.51" y2="248.93" stroke="#54a52b" stroke-width="0.9" stroke-opacity="0.85"/>
<line x1="139.64" y1="266.06" x2="139.64" y2="252.01" stroke="#54a52b" stroke-width="0.9" stroke-opacity="0.85"/>
<line x1="137.34" y1="266.06" x2="141.94" y2="266.06" stroke="#54a52b" stroke-width="0.9" stroke-opacity="0.85"/>
<line x1="137.34" y1="252.01" x2="141.94" y2="252.01" stroke="#54a52b" stroke-width="0.9" stroke-opacity="0.85"/>
<line x1="158.07" y1="266.06" x2="158.07" y2="252.01" stroke="#54a52b" stroke-width="0.9" stroke-opacity="0.85"/>
<line x1="155.77" y1="266.06" x2="160.37" y2="266.06" stroke="#54a52b" stroke-width="0.9" stroke-opacity="0.85"/>
<line x1="155.77" y1="252.01" x2="160.37" y2="252.01" stroke="#54a52b" stroke-width="0.9" stroke-opacity="0.85"/>
<line x1="176.50" y1="273.52" x2="176.50" y2="253.10" stroke="#54a52b" stroke-width="0.9" stroke-opacity="0.85"/>
<line x1="174.20" y1="273.52" x2="178.80" y2="273.52" stroke="#54a52b" stroke-width="0.9" stroke-opacity="0.85"/>
<line x1="174.20" y1="253.10" x2="178.80" y2="253.10" stroke="#54a52b" stroke-width="0.9" stroke-opacity="0.85"/>
<polyline points="47.50,299.20 65.93,236.86 84.36,236.86 102.78,236.86 121.21,244.32 139.64,244.32 158.07,244.32 176.50,252.01" fill="none" stroke="#a5002c" stroke-width="1.4" stroke-linejoin="round"/>
<circle cx="65.93" cy="236.86" r="2.2" fill="#a5002c"/>
<circle cx="84.36" cy="236.86" r="2.2" fill="#a5002c"/>
<circle cx="102.78" cy="236.86" r="2.2" fill="#a5002c"/>
<circle cx="121.21" cy="244.32" r="2.2" fill="#a5002c"/>
<circle cx="139.64" cy="244.32" r="2.2" fill="#a5002c"/>
<circle cx="158.07" cy="244.32" r="2.2" fill="#a5002c"/>
<circle cx="176.50" cy="252.01" r="2.2" fill="#a5002c"/>
<polyline points="47.50,299.20 65.93,240.15 84.36,240.59 102.78,236.86 121.21,240.81 139.64,240.81 158.07,244.32 176.50,248.06" fill="none" stroke="#1c3c7d" stroke-width="1.4" stroke-linejoin="round"/>
<rect x="63.93" y="238.15" width="4" height="4" fill="#1c3c7d"/>
<rect x="82.36" y="238.59" width="4" height="4" fill="#1c3c7d"/>
<rect x="100.78" y="234.86" width="4" height="4" fill="#1c3c7d"/>
<rect x="119.21" y="238.81" width="4" height="4" fill="#1c3c7d"/>
<rect x="137.64" y="238.81" width="4" height="4" fill="#1c3c7d"/>
<rect x="156.07" y="242.32" width="4" height="4" fill="#1c3c7d"/>
<rect x="174.50" y="246.06" width="4" height="4" fill="#1c3c7d"/>
<polyline points="47.50,299.20 65.93,237.52 84.36,248.28 102.78,252.01 121.21,255.96 139.64,259.69 158.07,259.69 176.50,263.20" fill="none" stroke="#54a52b" stroke-width="1.4" stroke-linejoin="round"/>
<polygon points="65.93,235.22 68.13,239.12 63.73,239.12" fill="#54a52b"/>
<polygon points="84.36,245.98 86.56,249.88 82.16,249.88" fill="#54a52b"/>
<polygon points="102.78,249.71 104.98,253.61 100.58,253.61" fill="#54a52b"/>
<polygon points="121.21,253.66 123.41,257.56 119.01,257.56" fill="#54a52b"/>
<polygon points="139.64,257.39 141.84,261.29 137.44,261.29" fill="#54a52b"/>
<polygon points="158.07,257.39 160.27,261.29 155.87,261.29" fill="#54a52b"/>
<polygon points="176.50,260.90 178.70,264.80 174.30,264.80" fill="#54a52b"/>
<polygon points="176.40,274.70 175.80,275.57 174.78,275.87 175.43,276.72 175.40,277.78 176.40,277.42 177.40,277.78 177.37,276.72 178.02,275.87 177.00,275.57" fill="#1a1a1a"/>
<line x1="315.50" y1="299.20" x2="315.50" y2="202.50" stroke="#111" stroke-width="1.15"/>
<line x1="312.10" y1="299.20" x2="460.20" y2="299.20" stroke="#111" stroke-width="1.2"/>
<line x1="312.10" y1="299.20" x2="315.50" y2="299.20" stroke="#111" stroke-width="1.0"/>
<text x="308.60" y="302.10" font-size="9.8" text-anchor="end" textLength="4.75" lengthAdjust="spacingAndGlyphs" fill="#222">0</text>
<line x1="312.10" y1="277.90" x2="315.50" y2="277.90" stroke="#111" stroke-width="1.0"/>
<text x="308.60" y="280.80" font-size="9.8" text-anchor="end" textLength="9.50" lengthAdjust="spacingAndGlyphs" fill="#222">20</text>
<line x1="312.10" y1="256.60" x2="315.50" y2="256.60" stroke="#111" stroke-width="1.0"/>
<text x="308.60" y="259.50" font-size="9.8" text-anchor="end" textLength="9.50" lengthAdjust="spacingAndGlyphs" fill="#222">40</text>
<line x1="312.10" y1="235.30" x2="315.50" y2="235.30" stroke="#111" stroke-width="1.0"/>
<text x="308.60" y="238.20" font-size="9.8" text-anchor="end" textLength="9.50" lengthAdjust="spacingAndGlyphs" fill="#222">60</text>
<line x1="312.10" y1="214.00" x2="315.50" y2="214.00" stroke="#111" stroke-width="1.0"/>
<text x="308.60" y="216.90" font-size="9.8" text-anchor="end" textLength="9.50" lengthAdjust="spacingAndGlyphs" fill="#222">80</text>
<line x1="313.60" y1="294.94" x2="315.50" y2="294.94" stroke="#111" stroke-width="1.0"/>
<line x1="313.60" y1="290.68" x2="315.50" y2="290.68" stroke="#111" stroke-width="1.0"/>
<line x1="313.60" y1="286.42" x2="315.50" y2="286.42" stroke="#111" stroke-width="1.0"/>
<line x1="313.60" y1="282.16" x2="315.50" y2="282.16" stroke="#111" stroke-width="1.0"/>
<line x1="313.60" y1="273.64" x2="315.50" y2="273.64" stroke="#111" stroke-width="1.0"/>
<line x1="313.60" y1="269.38" x2="315.50" y2="269.38" stroke="#111" stroke-width="1.0"/>
<line x1="313.60" y1="265.12" x2="315.50" y2="265.12" stroke="#111" stroke-width="1.0"/>
<line x1="313.60" y1="260.86" x2="315.50" y2="260.86" stroke="#111" stroke-width="1.0"/>
<line x1="313.60" y1="252.34" x2="315.50" y2="252.34" stroke="#111" stroke-width="1.0"/>
<line x1="313.60" y1="248.08" x2="315.50" y2="248.08" stroke="#111" stroke-width="1.0"/>
<line x1="313.60" y1="243.82" x2="315.50" y2="243.82" stroke="#111" stroke-width="1.0"/>
<line x1="313.60" y1="239.56" x2="315.50" y2="239.56" stroke="#111" stroke-width="1.0"/>
<line x1="313.60" y1="231.04" x2="315.50" y2="231.04" stroke="#111" stroke-width="1.0"/>
<line x1="313.60" y1="226.78" x2="315.50" y2="226.78" stroke="#111" stroke-width="1.0"/>
<line x1="313.60" y1="222.52" x2="315.50" y2="222.52" stroke="#111" stroke-width="1.0"/>
<line x1="313.60" y1="218.26" x2="315.50" y2="218.26" stroke="#111" stroke-width="1.0"/>
<line x1="313.60" y1="209.74" x2="315.50" y2="209.74" stroke="#111" stroke-width="1.0"/>
<line x1="313.60" y1="205.48" x2="315.50" y2="205.48" stroke="#111" stroke-width="1.0"/>
<line x1="315.50" y1="299.20" x2="315.50" y2="302.50" stroke="#111" stroke-width="1.0"/>
<line x1="335.70" y1="299.20" x2="335.70" y2="302.50" stroke="#111" stroke-width="1.0"/>
<line x1="355.90" y1="299.20" x2="355.90" y2="302.50" stroke="#111" stroke-width="1.0"/>
<line x1="376.10" y1="299.20" x2="376.10" y2="302.50" stroke="#111" stroke-width="1.0"/>
<line x1="396.30" y1="299.20" x2="396.30" y2="302.50" stroke="#111" stroke-width="1.0"/>
<line x1="416.50" y1="299.20" x2="416.50" y2="302.50" stroke="#111" stroke-width="1.0"/>
<line x1="436.70" y1="299.20" x2="436.70" y2="302.50" stroke="#111" stroke-width="1.0"/>
<line x1="456.90" y1="299.20" x2="456.90" y2="302.50" stroke="#111" stroke-width="1.0"/>
<line x1="325.60" y1="299.20" x2="325.60" y2="301.00" stroke="#111" stroke-width="1.0"/>
<line x1="345.80" y1="299.20" x2="345.80" y2="301.00" stroke="#111" stroke-width="1.0"/>
<line x1="366.00" y1="299.20" x2="366.00" y2="301.00" stroke="#111" stroke-width="1.0"/>
<line x1="386.20" y1="299.20" x2="386.20" y2="301.00" stroke="#111" stroke-width="1.0"/>
<line x1="406.40" y1="299.20" x2="406.40" y2="301.00" stroke="#111" stroke-width="1.0"/>
<line x1="426.60" y1="299.20" x2="426.60" y2="301.00" stroke="#111" stroke-width="1.0"/>
<line x1="446.80" y1="299.20" x2="446.80" y2="301.00" stroke="#111" stroke-width="1.0"/>
<text x="315.50" y="313.20" font-size="9.8" text-anchor="middle" textLength="4.75" lengthAdjust="spacingAndGlyphs" fill="#222">0</text>
<text x="335.70" y="313.20" font-size="9.8" text-anchor="middle" textLength="4.75" lengthAdjust="spacingAndGlyphs" fill="#222">2</text>
<text x="355.90" y="313.20" font-size="9.8" text-anchor="middle" textLength="4.75" lengthAdjust="spacingAndGlyphs" fill="#222">4</text>
<text x="376.10" y="313.20" font-size="9.8" text-anchor="middle" textLength="4.75" lengthAdjust="spacingAndGlyphs" fill="#222">6</text>
<text x="396.30" y="313.20" font-size="9.8" text-anchor="middle" textLength="4.75" lengthAdjust="spacingAndGlyphs" fill="#222">8</text>
<text x="416.50" y="313.20" font-size="9.8" text-anchor="middle" textLength="9.50" lengthAdjust="spacingAndGlyphs" fill="#222">10</text>
<text x="436.70" y="313.20" font-size="9.8" text-anchor="middle" textLength="9.50" lengthAdjust="spacingAndGlyphs" fill="#222">12</text>
<text x="456.90" y="313.20" font-size="9.8" text-anchor="middle" textLength="9.50" lengthAdjust="spacingAndGlyphs" fill="#222">14</text>
<text x="358.30" y="327.50" font-size="10.2" textLength="59.60" lengthAdjust="spacingAndGlyphs" fill="#222">Days after injury</text>
<text transform="translate(280.30,250.75) rotate(-90)" x="0" y="0" font-size="9.9" text-anchor="middle" textLength="53.90" lengthAdjust="spacingAndGlyphs" fill="#222">Joint diameter</text>
<text transform="translate(292.70,250.40) rotate(-90)" x="0" y="0" font-size="9.9" text-anchor="middle" textLength="35.00" lengthAdjust="spacingAndGlyphs" fill="#222">% change</text>
<line x1="335.70" y1="265.87" x2="335.70" y2="241.69" stroke="#54a52b" stroke-width="0.9" stroke-opacity="0.85"/>
<line x1="333.40" y1="265.87" x2="338.00" y2="265.87" stroke="#54a52b" stroke-width="0.9" stroke-opacity="0.85"/>
<line x1="333.40" y1="241.69" x2="338.00" y2="241.69" stroke="#54a52b" stroke-width="0.9" stroke-opacity="0.85"/>
<line x1="355.90" y1="255.11" x2="355.90" y2="237.96" stroke="#54a52b" stroke-width="0.9" stroke-opacity="0.85"/>
<line x1="353.60" y1="255.11" x2="358.20" y2="255.11" stroke="#54a52b" stroke-width="0.9" stroke-opacity="0.85"/>
<line x1="353.60" y1="237.96" x2="358.20" y2="237.96" stroke="#54a52b" stroke-width="0.9" stroke-opacity="0.85"/>
<line x1="376.10" y1="256.07" x2="376.10" y2="239.88" stroke="#54a52b" stroke-width="0.9" stroke-opacity="0.85"/>
<line x1="373.80" y1="256.07" x2="378.40" y2="256.07" stroke="#54a52b" stroke-width="0.9" stroke-opacity="0.85"/>
<line x1="373.80" y1="239.88" x2="378.40" y2="239.88" stroke="#54a52b" stroke-width="0.9" stroke-opacity="0.85"/>
<line x1="396.30" y1="271.19" x2="396.30" y2="246.70" stroke="#54a52b" stroke-width="0.9" stroke-opacity="0.85"/>
<line x1="394.00" y1="271.19" x2="398.60" y2="271.19" stroke="#54a52b" stroke-width="0.9" stroke-opacity="0.85"/>
<line x1="394.00" y1="246.70" x2="398.60" y2="246.70" stroke="#54a52b" stroke-width="0.9" stroke-opacity="0.85"/>
<line x1="416.50" y1="276.20" x2="416.50" y2="250.32" stroke="#54a52b" stroke-width="0.9" stroke-opacity="0.85"/>
<line x1="414.20" y1="276.20" x2="418.80" y2="276.20" stroke="#54a52b" stroke-width="0.9" stroke-opacity="0.85"/>
<line x1="414.20" y1="250.32" x2="418.80" y2="250.32" stroke="#54a52b" stroke-width="0.9" stroke-opacity="0.85"/>
<line x1="436.70" y1="277.47" x2="436.70" y2="257.24" stroke="#54a52b" stroke-width="0.9" stroke-opacity="0.85"/>
<line x1="434.40" y1="277.47" x2="439.00" y2="277.47" stroke="#54a52b" stroke-width="0.9" stroke-opacity="0.85"/>
<line x1="434.40" y1="257.24" x2="439.00" y2="257.24" stroke="#54a52b" stroke-width="0.9" stroke-opacity="0.85"/>
<line x1="456.90" y1="283.76" x2="456.90" y2="260.86" stroke="#54a52b" stroke-width="0.9" stroke-opacity="0.85"/>
<line x1="454.60" y1="283.76" x2="459.20" y2="283.76" stroke="#54a52b" stroke-width="0.9" stroke-opacity="0.85"/>
<line x1="454.60" y1="260.86" x2="459.20" y2="260.86" stroke="#54a52b" stroke-width="0.9" stroke-opacity="0.85"/>
<line x1="335.70" y1="250.42" x2="335.70" y2="235.30" stroke="#1c3c7d" stroke-width="0.9" stroke-opacity="0.85"/>
<line x1="333.40" y1="250.42" x2="338.00" y2="250.42" stroke="#1c3c7d" stroke-width="0.9" stroke-opacity="0.85"/>
<line x1="333.40" y1="235.30" x2="338.00" y2="235.30" stroke="#1c3c7d" stroke-width="0.9" stroke-opacity="0.85"/>
<line x1="355.90" y1="240.73" x2="355.90" y2="222.20" stroke="#1c3c7d" stroke-width="0.9" stroke-opacity="0.85"/>
<line x1="353.60" y1="240.73" x2="358.20" y2="240.73" stroke="#1c3c7d" stroke-width="0.9" stroke-opacity="0.85"/>
<line x1="353.60" y1="222.20" x2="358.20" y2="222.20" stroke="#1c3c7d" stroke-width="0.9" stroke-opacity="0.85"/>
<line x1="376.10" y1="242.97" x2="376.10" y2="225.50" stroke="#1c3c7d" stroke-width="0.9" stroke-opacity="0.85"/>
<line x1="373.80" y1="242.97" x2="378.40" y2="242.97" stroke="#1c3c7d" stroke-width="0.9" stroke-opacity="0.85"/>
<line x1="373.80" y1="225.50" x2="378.40" y2="225.50" stroke="#1c3c7d" stroke-width="0.9" stroke-opacity="0.85"/>
<line x1="396.30" y1="254.90" x2="396.30" y2="235.09" stroke="#1c3c7d" stroke-width="0.9" stroke-opacity="0.85"/>
<line x1="394.00" y1="254.90" x2="398.60" y2="254.90" stroke="#1c3c7d" stroke-width="0.9" stroke-opacity="0.85"/>
<line x1="394.00" y1="235.09" x2="398.60" y2="235.09" stroke="#1c3c7d" stroke-width="0.9" stroke-opacity="0.85"/>
<line x1="416.50" y1="253.83" x2="416.50" y2="228.48" stroke="#1c3c7d" stroke-width="0.9" stroke-opacity="0.85"/>
<line x1="414.20" y1="253.83" x2="418.80" y2="253.83" stroke="#1c3c7d" stroke-width="0.9" stroke-opacity="0.85"/>
<line x1="414.20" y1="228.48" x2="418.80" y2="228.48" stroke="#1c3c7d" stroke-width="0.9" stroke-opacity="0.85"/>
<line x1="436.70" y1="256.49" x2="436.70" y2="229.23" stroke="#1c3c7d" stroke-width="0.9" stroke-opacity="0.85"/>
<line x1="434.40" y1="256.49" x2="439.00" y2="256.49" stroke="#1c3c7d" stroke-width="0.9" stroke-opacity="0.85"/>
<line x1="434.40" y1="229.23" x2="439.00" y2="229.23" stroke="#1c3c7d" stroke-width="0.9" stroke-opacity="0.85"/>
<line x1="456.90" y1="266.19" x2="456.90" y2="238.92" stroke="#1c3c7d" stroke-width="0.9" stroke-opacity="0.85"/>
<line x1="454.60" y1="266.19" x2="459.20" y2="266.19" stroke="#1c3c7d" stroke-width="0.9" stroke-opacity="0.85"/>
<line x1="454.60" y1="238.92" x2="459.20" y2="238.92" stroke="#1c3c7d" stroke-width="0.9" stroke-opacity="0.85"/>
<line x1="335.70" y1="253.09" x2="335.70" y2="229.55" stroke="#a5002c" stroke-width="0.9" stroke-opacity="0.85"/>
<line x1="333.40" y1="253.09" x2="338.00" y2="253.09" stroke="#a5002c" stroke-width="0.9" stroke-opacity="0.85"/>
<line x1="333.40" y1="229.55" x2="338.00" y2="229.55" stroke="#a5002c" stroke-width="0.9" stroke-opacity="0.85"/>
<line x1="355.90" y1="245.31" x2="355.90" y2="221.77" stroke="#a5002c" stroke-width="0.9" stroke-opacity="0.85"/>
<line x1="353.60" y1="245.31" x2="358.20" y2="245.31" stroke="#a5002c" stroke-width="0.9" stroke-opacity="0.85"/>
<line x1="353.60" y1="221.77" x2="358.20" y2="221.77" stroke="#a5002c" stroke-width="0.9" stroke-opacity="0.85"/>
<line x1="376.10" y1="242.33" x2="376.10" y2="222.84" stroke="#a5002c" stroke-width="0.9" stroke-opacity="0.85"/>
<line x1="373.80" y1="242.33" x2="378.40" y2="242.33" stroke="#a5002c" stroke-width="0.9" stroke-opacity="0.85"/>
<line x1="373.80" y1="222.84" x2="378.40" y2="222.84" stroke="#a5002c" stroke-width="0.9" stroke-opacity="0.85"/>
<line x1="396.30" y1="237.43" x2="396.30" y2="221.99" stroke="#a5002c" stroke-width="0.9" stroke-opacity="0.85"/>
<line x1="394.00" y1="237.43" x2="398.60" y2="237.43" stroke="#a5002c" stroke-width="0.9" stroke-opacity="0.85"/>
<line x1="394.00" y1="221.99" x2="398.60" y2="221.99" stroke="#a5002c" stroke-width="0.9" stroke-opacity="0.85"/>
<line x1="416.50" y1="246.16" x2="416.50" y2="222.63" stroke="#a5002c" stroke-width="0.9" stroke-opacity="0.85"/>
<line x1="414.20" y1="246.16" x2="418.80" y2="246.16" stroke="#a5002c" stroke-width="0.9" stroke-opacity="0.85"/>
<line x1="414.20" y1="222.63" x2="418.80" y2="222.63" stroke="#a5002c" stroke-width="0.9" stroke-opacity="0.85"/>
<line x1="436.70" y1="254.58" x2="436.70" y2="227.21" stroke="#a5002c" stroke-width="0.9" stroke-opacity="0.85"/>
<line x1="434.40" y1="254.58" x2="439.00" y2="254.58" stroke="#a5002c" stroke-width="0.9" stroke-opacity="0.85"/>
<line x1="434.40" y1="227.21" x2="439.00" y2="227.21" stroke="#a5002c" stroke-width="0.9" stroke-opacity="0.85"/>
<line x1="456.90" y1="259.16" x2="456.90" y2="234.23" stroke="#a5002c" stroke-width="0.9" stroke-opacity="0.85"/>
<line x1="454.60" y1="259.16" x2="459.20" y2="259.16" stroke="#a5002c" stroke-width="0.9" stroke-opacity="0.85"/>
<line x1="454.60" y1="234.23" x2="459.20" y2="234.23" stroke="#a5002c" stroke-width="0.9" stroke-opacity="0.85"/>
<polyline points="315.50,299.20 335.70,253.72 355.90,246.59 376.10,247.97 396.30,258.94 416.50,263.84 436.70,267.36 456.90,273.11" fill="none" stroke="#54a52b" stroke-width="1.4" stroke-linejoin="round"/>
<polygon points="335.70,251.42 337.90,255.32 333.50,255.32" fill="#54a52b"/>
<polygon points="355.90,244.29 358.10,248.19 353.70,248.19" fill="#54a52b"/>
<polygon points="376.10,245.67 378.30,249.57 373.90,249.57" fill="#54a52b"/>
<polygon points="396.30,256.64 398.50,260.54 394.10,260.54" fill="#54a52b"/>
<polygon points="416.50,261.54 418.70,265.44 414.30,265.44" fill="#54a52b"/>
<polygon points="436.70,265.06 438.90,268.96 434.50,268.96" fill="#54a52b"/>
<polygon points="456.90,270.81 459.10,274.71 454.70,274.71" fill="#54a52b"/>
<polyline points="315.50,299.20 335.70,242.97 355.90,231.47 376.10,234.23 396.30,245.42 416.50,241.48 436.70,243.07 456.90,252.34" fill="none" stroke="#1c3c7d" stroke-width="1.4" stroke-linejoin="round"/>
<rect x="333.70" y="240.97" width="4" height="4" fill="#1c3c7d"/>
<rect x="353.90" y="229.47" width="4" height="4" fill="#1c3c7d"/>
<rect x="374.10" y="232.23" width="4" height="4" fill="#1c3c7d"/>
<rect x="394.30" y="243.42" width="4" height="4" fill="#1c3c7d"/>
<rect x="414.50" y="239.48" width="4" height="4" fill="#1c3c7d"/>
<rect x="434.70" y="241.07" width="4" height="4" fill="#1c3c7d"/>
<rect x="454.90" y="250.34" width="4" height="4" fill="#1c3c7d"/>
<polyline points="315.50,299.20 335.70,241.58 355.90,232.85 376.10,233.17 396.30,229.55 416.50,234.23 436.70,240.84 456.90,246.59" fill="none" stroke="#a5002c" stroke-width="1.4" stroke-linejoin="round"/>
<circle cx="335.70" cy="241.58" r="2.2" fill="#a5002c"/>
<circle cx="355.90" cy="232.85" r="2.2" fill="#a5002c"/>
<circle cx="376.10" cy="233.17" r="2.2" fill="#a5002c"/>
<circle cx="396.30" cy="229.55" r="2.2" fill="#a5002c"/>
<circle cx="416.50" cy="234.23" r="2.2" fill="#a5002c"/>
<circle cx="436.70" cy="240.84" r="2.2" fill="#a5002c"/>
<circle cx="456.90" cy="246.59" r="2.2" fill="#a5002c"/>
<line x1="47.50" y1="480.80" x2="47.50" y2="390.10" stroke="#111" stroke-width="1.15"/>
<line x1="44.10" y1="480.80" x2="191.80" y2="480.80" stroke="#111" stroke-width="1.2"/>
<line x1="44.10" y1="480.80" x2="47.50" y2="480.80" stroke="#111" stroke-width="1.0"/>
<text x="41.20" y="483.70" font-size="9.8" text-anchor="end" textLength="4.75" lengthAdjust="spacingAndGlyphs" fill="#222">0</text>
<line x1="44.10" y1="458.83" x2="47.50" y2="458.83" stroke="#111" stroke-width="1.0"/>
<text x="41.20" y="461.73" font-size="9.8" text-anchor="end" textLength="4.75" lengthAdjust="spacingAndGlyphs" fill="#222">1</text>
<line x1="44.10" y1="436.86" x2="47.50" y2="436.86" stroke="#111" stroke-width="1.0"/>
<text x="41.20" y="439.76" font-size="9.8" text-anchor="end" textLength="4.75" lengthAdjust="spacingAndGlyphs" fill="#222">2</text>
<line x1="44.10" y1="414.89" x2="47.50" y2="414.89" stroke="#111" stroke-width="1.0"/>
<text x="41.20" y="417.79" font-size="9.8" text-anchor="end" textLength="4.75" lengthAdjust="spacingAndGlyphs" fill="#222">3</text>
<line x1="44.10" y1="392.92" x2="47.50" y2="392.92" stroke="#111" stroke-width="1.0"/>
<text x="41.20" y="395.82" font-size="9.8" text-anchor="end" textLength="4.75" lengthAdjust="spacingAndGlyphs" fill="#222">4</text>
<line x1="45.60" y1="469.81" x2="47.50" y2="469.81" stroke="#111" stroke-width="1.0"/>
<line x1="45.60" y1="447.85" x2="47.50" y2="447.85" stroke="#111" stroke-width="1.0"/>
<line x1="45.60" y1="425.88" x2="47.50" y2="425.88" stroke="#111" stroke-width="1.0"/>
<line x1="45.60" y1="403.91" x2="47.50" y2="403.91" stroke="#111" stroke-width="1.0"/>
<line x1="47.50" y1="480.80" x2="47.50" y2="484.10" stroke="#111" stroke-width="1.0"/>
<line x1="66.77" y1="480.80" x2="66.77" y2="484.10" stroke="#111" stroke-width="1.0"/>
<line x1="86.04" y1="480.80" x2="86.04" y2="484.10" stroke="#111" stroke-width="1.0"/>
<line x1="105.32" y1="480.80" x2="105.32" y2="484.10" stroke="#111" stroke-width="1.0"/>
<line x1="124.59" y1="480.80" x2="124.59" y2="484.10" stroke="#111" stroke-width="1.0"/>
<line x1="143.86" y1="480.80" x2="143.86" y2="484.10" stroke="#111" stroke-width="1.0"/>
<line x1="163.13" y1="480.80" x2="163.13" y2="484.10" stroke="#111" stroke-width="1.0"/>
<line x1="182.40" y1="480.80" x2="182.40" y2="484.10" stroke="#111" stroke-width="1.0"/>
<line x1="57.14" y1="480.80" x2="57.14" y2="482.60" stroke="#111" stroke-width="1.0"/>
<line x1="76.41" y1="480.80" x2="76.41" y2="482.60" stroke="#111" stroke-width="1.0"/>
<line x1="95.68" y1="480.80" x2="95.68" y2="482.60" stroke="#111" stroke-width="1.0"/>
<line x1="114.95" y1="480.80" x2="114.95" y2="482.60" stroke="#111" stroke-width="1.0"/>
<line x1="134.22" y1="480.80" x2="134.22" y2="482.60" stroke="#111" stroke-width="1.0"/>
<line x1="153.50" y1="480.80" x2="153.50" y2="482.60" stroke="#111" stroke-width="1.0"/>
<line x1="172.77" y1="480.80" x2="172.77" y2="482.60" stroke="#111" stroke-width="1.0"/>
<line x1="192.04" y1="480.80" x2="192.04" y2="482.60" stroke="#111" stroke-width="1.0"/>
<text x="47.50" y="494.80" font-size="9.8" text-anchor="middle" textLength="4.75" lengthAdjust="spacingAndGlyphs" fill="#222">0</text>
<text x="66.77" y="494.80" font-size="9.8" text-anchor="middle" textLength="4.75" lengthAdjust="spacingAndGlyphs" fill="#222">2</text>
<text x="86.04" y="494.80" font-size="9.8" text-anchor="middle" textLength="4.75" lengthAdjust="spacingAndGlyphs" fill="#222">4</text>
<text x="105.32" y="494.80" font-size="9.8" text-anchor="middle" textLength="4.75" lengthAdjust="spacingAndGlyphs" fill="#222">6</text>
<text x="124.59" y="494.80" font-size="9.8" text-anchor="middle" textLength="4.75" lengthAdjust="spacingAndGlyphs" fill="#222">8</text>
<text x="143.86" y="494.80" font-size="9.8" text-anchor="middle" textLength="9.50" lengthAdjust="spacingAndGlyphs" fill="#222">10</text>
<text x="163.13" y="494.80" font-size="9.8" text-anchor="middle" textLength="9.50" lengthAdjust="spacingAndGlyphs" fill="#222">12</text>
<text x="182.40" y="494.80" font-size="9.8" text-anchor="middle" textLength="9.50" lengthAdjust="spacingAndGlyphs" fill="#222">14</text>
<text x="90.20" y="509.40" font-size="10.2" textLength="59.00" lengthAdjust="spacingAndGlyphs" fill="#222">Days after injury</text>
<text transform="translate(29.60,432.35) rotate(-90)" x="0" y="0" font-size="9.9" text-anchor="middle" textLength="79.50" lengthAdjust="spacingAndGlyphs" fill="#222">Visual bleeding score</text>
<line x1="105.32" y1="415.99" x2="105.32" y2="413.79" stroke="#a5002c" stroke-width="0.9" stroke-opacity="0.85"/>
<line x1="103.02" y1="415.99" x2="107.62" y2="415.99" stroke="#a5002c" stroke-width="0.9" stroke-opacity="0.85"/>
<line x1="103.02" y1="413.79" x2="107.62" y2="413.79" stroke="#a5002c" stroke-width="0.9" stroke-opacity="0.85"/>
<line x1="124.59" y1="422.58" x2="124.59" y2="415.11" stroke="#a5002c" stroke-width="0.9" stroke-opacity="0.85"/>
<line x1="122.29" y1="422.58" x2="126.89" y2="422.58" stroke="#a5002c" stroke-width="0.9" stroke-opacity="0.85"/>
<line x1="122.29" y1="415.11" x2="126.89" y2="415.11" stroke="#a5002c" stroke-width="0.9" stroke-opacity="0.85"/>
<line x1="143.86" y1="422.58" x2="143.86" y2="415.11" stroke="#a5002c" stroke-width="0.9" stroke-opacity="0.85"/>
<line x1="141.56" y1="422.58" x2="146.16" y2="422.58" stroke="#a5002c" stroke-width="0.9" stroke-opacity="0.85"/>
<line x1="141.56" y1="415.11" x2="146.16" y2="415.11" stroke="#a5002c" stroke-width="0.9" stroke-opacity="0.85"/>
<line x1="163.13" y1="439.72" x2="163.13" y2="418.84" stroke="#a5002c" stroke-width="0.9" stroke-opacity="0.85"/>
<line x1="160.83" y1="439.72" x2="165.43" y2="439.72" stroke="#a5002c" stroke-width="0.9" stroke-opacity="0.85"/>
<line x1="160.83" y1="418.84" x2="165.43" y2="418.84" stroke="#a5002c" stroke-width="0.9" stroke-opacity="0.85"/>
<line x1="182.40" y1="444.55" x2="182.40" y2="423.02" stroke="#a5002c" stroke-width="0.9" stroke-opacity="0.85"/>
<line x1="180.10" y1="444.55" x2="184.70" y2="444.55" stroke="#a5002c" stroke-width="0.9" stroke-opacity="0.85"/>
<line x1="180.10" y1="423.02" x2="184.70" y2="423.02" stroke="#a5002c" stroke-width="0.9" stroke-opacity="0.85"/>
<line x1="66.77" y1="423.02" x2="66.77" y2="415.55" stroke="#1c3c7d" stroke-width="0.9" stroke-opacity="0.85"/>
<line x1="64.47" y1="423.02" x2="69.07" y2="423.02" stroke="#1c3c7d" stroke-width="0.9" stroke-opacity="0.85"/>
<line x1="64.47" y1="415.55" x2="69.07" y2="415.55" stroke="#1c3c7d" stroke-width="0.9" stroke-opacity="0.85"/>
<line x1="105.32" y1="429.61" x2="105.32" y2="415.55" stroke="#1c3c7d" stroke-width="0.9" stroke-opacity="0.85"/>
<line x1="103.02" y1="429.61" x2="107.62" y2="429.61" stroke="#1c3c7d" stroke-width="0.9" stroke-opacity="0.85"/>
<line x1="103.02" y1="415.55" x2="107.62" y2="415.55" stroke="#1c3c7d" stroke-width="0.9" stroke-opacity="0.85"/>
<line x1="124.59" y1="429.61" x2="124.59" y2="415.11" stroke="#1c3c7d" stroke-width="0.9" stroke-opacity="0.85"/>
<line x1="122.29" y1="429.61" x2="126.89" y2="429.61" stroke="#1c3c7d" stroke-width="0.9" stroke-opacity="0.85"/>
<line x1="122.29" y1="415.11" x2="126.89" y2="415.11" stroke="#1c3c7d" stroke-width="0.9" stroke-opacity="0.85"/>
<line x1="143.86" y1="437.08" x2="143.86" y2="422.58" stroke="#1c3c7d" stroke-width="0.9" stroke-opacity="0.85"/>
<line x1="141.56" y1="437.08" x2="146.16" y2="437.08" stroke="#1c3c7d" stroke-width="0.9" stroke-opacity="0.85"/>
<line x1="141.56" y1="422.58" x2="146.16" y2="422.58" stroke="#1c3c7d" stroke-width="0.9" stroke-opacity="0.85"/>
<line x1="163.13" y1="455.31" x2="163.13" y2="440.59" stroke="#1c3c7d" stroke-width="0.9" stroke-opacity="0.85"/>
<line x1="160.83" y1="455.31" x2="165.43" y2="455.31" stroke="#1c3c7d" stroke-width="0.9" stroke-opacity="0.85"/>
<line x1="160.83" y1="440.59" x2="165.43" y2="440.59" stroke="#1c3c7d" stroke-width="0.9" stroke-opacity="0.85"/>
<line x1="182.40" y1="456.41" x2="182.40" y2="446.75" stroke="#1c3c7d" stroke-width="0.9" stroke-opacity="0.85"/>
<line x1="180.10" y1="456.41" x2="184.70" y2="456.41" stroke="#1c3c7d" stroke-width="0.9" stroke-opacity="0.85"/>
<line x1="180.10" y1="446.75" x2="184.70" y2="446.75" stroke="#1c3c7d" stroke-width="0.9" stroke-opacity="0.85"/>
<line x1="66.77" y1="426.97" x2="66.77" y2="418.19" stroke="#54a52b" stroke-width="0.9" stroke-opacity="0.85"/>
<line x1="64.47" y1="426.97" x2="69.07" y2="426.97" stroke="#54a52b" stroke-width="0.9" stroke-opacity="0.85"/>
<line x1="64.47" y1="418.19" x2="69.07" y2="418.19" stroke="#54a52b" stroke-width="0.9" stroke-opacity="0.85"/>
<line x1="86.04" y1="437.08" x2="86.04" y2="422.80" stroke="#54a52b" stroke-width="0.9" stroke-opacity="0.85"/>
<line x1="83.74" y1="437.08" x2="88.34" y2="437.08" stroke="#54a52b" stroke-width="0.9" stroke-opacity="0.85"/>
<line x1="83.74" y1="422.80" x2="88.34" y2="422.80" stroke="#54a52b" stroke-width="0.9" stroke-opacity="0.85"/>
<line x1="105.32" y1="453.56" x2="105.32" y2="435.76" stroke="#54a52b" stroke-width="0.9" stroke-opacity="0.85"/>
<line x1="103.02" y1="453.56" x2="107.62" y2="453.56" stroke="#54a52b" stroke-width="0.9" stroke-opacity="0.85"/>
<line x1="103.02" y1="435.76" x2="107.62" y2="435.76" stroke="#54a52b" stroke-width="0.9" stroke-opacity="0.85"/>
<line x1="124.59" y1="455.97" x2="124.59" y2="447.19" stroke="#54a52b" stroke-width="0.9" stroke-opacity="0.85"/>
<line x1="122.29" y1="455.97" x2="126.89" y2="455.97" stroke="#54a52b" stroke-width="0.9" stroke-opacity="0.85"/>
<line x1="122.29" y1="447.19" x2="126.89" y2="447.19" stroke="#54a52b" stroke-width="0.9" stroke-opacity="0.85"/>
<line x1="143.86" y1="455.97" x2="143.86" y2="447.19" stroke="#54a52b" stroke-width="0.9" stroke-opacity="0.85"/>
<line x1="141.56" y1="455.97" x2="146.16" y2="455.97" stroke="#54a52b" stroke-width="0.9" stroke-opacity="0.85"/>
<line x1="141.56" y1="447.19" x2="146.16" y2="447.19" stroke="#54a52b" stroke-width="0.9" stroke-opacity="0.85"/>
<line x1="163.13" y1="478.60" x2="163.13" y2="469.38" stroke="#54a52b" stroke-width="0.9" stroke-opacity="0.85"/>
<line x1="160.83" y1="478.60" x2="165.43" y2="478.60" stroke="#54a52b" stroke-width="0.9" stroke-opacity="0.85"/>
<line x1="160.83" y1="469.38" x2="165.43" y2="469.38" stroke="#54a52b" stroke-width="0.9" stroke-opacity="0.85"/>
<line x1="182.40" y1="478.60" x2="182.40" y2="469.38" stroke="#54a52b" stroke-width="0.9" stroke-opacity="0.85"/>
<line x1="180.10" y1="478.60" x2="184.70" y2="478.60" stroke="#54a52b" stroke-width="0.9" stroke-opacity="0.85"/>
<line x1="180.10" y1="469.38" x2="184.70" y2="469.38" stroke="#54a52b" stroke-width="0.9" stroke-opacity="0.85"/>
<polyline points="47.50,480.80 66.77,419.28 86.04,414.89 105.32,414.89 124.59,418.84 143.86,418.84 163.13,429.39 182.40,433.34" fill="none" stroke="#a5002c" stroke-width="1.4" stroke-linejoin="round"/>
<circle cx="66.77" cy="419.28" r="2.2" fill="#a5002c"/>
<circle cx="86.04" cy="414.89" r="2.2" fill="#a5002c"/>
<circle cx="105.32" cy="414.89" r="2.2" fill="#a5002c"/>
<circle cx="124.59" cy="418.84" r="2.2" fill="#a5002c"/>
<circle cx="143.86" cy="418.84" r="2.2" fill="#a5002c"/>
<circle cx="163.13" cy="429.39" r="2.2" fill="#a5002c"/>
<circle cx="182.40" cy="433.34" r="2.2" fill="#a5002c"/>
<polyline points="47.50,480.80 66.77,419.28 86.04,414.89 105.32,422.58 124.59,422.58 143.86,430.05 163.13,448.28 182.40,451.58" fill="none" stroke="#1c3c7d" stroke-width="1.4" stroke-linejoin="round"/>
<rect x="64.77" y="417.28" width="4" height="4" fill="#1c3c7d"/>
<rect x="84.04" y="412.89" width="4" height="4" fill="#1c3c7d"/>
<rect x="103.32" y="420.58" width="4" height="4" fill="#1c3c7d"/>
<rect x="122.59" y="420.58" width="4" height="4" fill="#1c3c7d"/>
<rect x="141.86" y="428.05" width="4" height="4" fill="#1c3c7d"/>
<rect x="161.13" y="446.28" width="4" height="4" fill="#1c3c7d"/>
<rect x="180.40" y="449.58" width="4" height="4" fill="#1c3c7d"/>
<polyline points="47.50,480.80 66.77,422.58 86.04,430.05 105.32,444.55 124.59,451.58 143.86,451.58 163.13,473.55 182.40,473.55" fill="none" stroke="#54a52b" stroke-width="1.4" stroke-linejoin="round"/>
<polygon points="66.77,420.28 68.97,424.18 64.57,424.18" fill="#54a52b"/>
<polygon points="86.04,427.75 88.24,431.65 83.84,431.65" fill="#54a52b"/>
<polygon points="105.32,442.25 107.52,446.15 103.12,446.15" fill="#54a52b"/>
<polygon points="124.59,449.28 126.79,453.18 122.39,453.18" fill="#54a52b"/>
<polygon points="143.86,449.28 146.06,453.18 141.66,453.18" fill="#54a52b"/>
<polygon points="163.13,471.25 165.33,475.15 160.93,475.15" fill="#54a52b"/>
<polygon points="182.40,471.25 184.60,475.15 180.20,475.15" fill="#54a52b"/>
<polygon points="101.40,430.60 100.80,431.47 99.78,431.77 100.43,432.62 100.40,433.68 101.40,433.32 102.40,433.68 102.37,432.62 103.02,431.77 102.00,431.47" fill="#1a1a1a"/>
<polygon points="105.10,430.60 104.50,431.47 103.48,431.77 104.13,432.62 104.10,433.68 105.10,433.32 106.10,433.68 106.07,432.62 106.72,431.77 105.70,431.47" fill="#1a1a1a"/>
<polygon points="108.80,430.60 108.20,431.47 107.18,431.77 107.83,432.62 107.80,433.68 108.80,433.32 109.80,433.68 109.77,432.62 110.42,431.77 109.40,431.47" fill="#1a1a1a"/>
<polygon points="121.00,442.00 120.40,442.87 119.38,443.17 120.03,444.02 120.00,445.08 121.00,444.72 122.00,445.08 121.97,444.02 122.62,443.17 121.60,442.87" fill="#1a1a1a"/>
<polygon points="124.70,442.00 124.10,442.87 123.08,443.17 123.73,444.02 123.70,445.08 124.70,444.72 125.70,445.08 125.67,444.02 126.32,443.17 125.30,442.87" fill="#1a1a1a"/>
<polygon points="128.40,442.00 127.80,442.87 126.78,443.17 127.43,444.02 127.40,445.08 128.40,444.72 129.40,445.08 129.37,444.02 130.02,443.17 129.00,442.87" fill="#1a1a1a"/>
<polygon points="140.30,442.00 139.70,442.87 138.68,443.17 139.33,444.02 139.30,445.08 140.30,444.72 141.30,445.08 141.27,444.02 141.92,443.17 140.90,442.87" fill="#1a1a1a"/>
<polygon points="144.00,442.00 143.40,442.87 142.38,443.17 143.03,444.02 143.00,445.08 144.00,444.72 145.00,445.08 144.97,444.02 145.62,443.17 144.60,442.87" fill="#1a1a1a"/>
<polygon points="147.70,442.00 147.10,442.87 146.08,443.17 146.73,444.02 146.70,445.08 147.70,444.72 148.70,445.08 148.67,444.02 149.32,443.17 148.30,442.87" fill="#1a1a1a"/>
<polygon points="159.50,464.30 158.90,465.17 157.88,465.47 158.53,466.32 158.50,467.38 159.50,467.02 160.50,467.38 160.47,466.32 161.12,465.47 160.10,465.17" fill="#1a1a1a"/>
<polygon points="163.20,464.30 162.60,465.17 161.58,465.47 162.23,466.32 162.20,467.38 163.20,467.02 164.20,467.38 164.17,466.32 164.82,465.47 163.80,465.17" fill="#1a1a1a"/>
<polygon points="166.90,464.30 166.30,465.17 165.28,465.47 165.93,466.32 165.90,467.38 166.90,467.02 167.90,467.38 167.87,466.32 168.52,465.47 167.50,465.17" fill="#1a1a1a"/>
<polygon points="178.60,463.90 178.00,464.77 176.98,465.07 177.63,465.92 177.60,466.98 178.60,466.62 179.60,466.98 179.57,465.92 180.22,465.07 179.20,464.77" fill="#1a1a1a"/>
<polygon points="182.30,463.90 181.70,464.77 180.68,465.07 181.33,465.92 181.30,466.98 182.30,466.62 183.30,466.98 183.27,465.92 183.92,465.07 182.90,464.77" fill="#1a1a1a"/>
<polygon points="186.00,463.90 185.40,464.77 184.38,465.07 185.03,465.92 185.00,466.98 186.00,466.62 187.00,466.98 186.97,465.92 187.62,465.07 186.60,464.77" fill="#1a1a1a"/>
<polygon points="162.80,436.70 162.20,437.57 161.18,437.87 161.83,438.72 161.80,439.78 162.80,439.42 163.80,439.78 163.77,438.72 164.42,437.87 163.40,437.57" fill="#1a1a1a"/>
<polygon points="182.30,442.70 181.70,443.57 180.68,443.87 181.33,444.72 181.30,445.78 182.30,445.42 183.30,445.78 183.27,444.72 183.92,443.87 182.90,443.57" fill="#1a1a1a"/>
<line x1="315.50" y1="480.80" x2="315.50" y2="384.70" stroke="#111" stroke-width="1.15"/>
<line x1="312.10" y1="480.80" x2="460.20" y2="480.80" stroke="#111" stroke-width="1.2"/>
<line x1="312.10" y1="480.80" x2="315.50" y2="480.80" stroke="#111" stroke-width="1.0"/>
<text x="308.60" y="483.70" font-size="9.8" text-anchor="end" textLength="4.75" lengthAdjust="spacingAndGlyphs" fill="#222">0</text>
<line x1="312.10" y1="459.60" x2="315.50" y2="459.60" stroke="#111" stroke-width="1.0"/>
<text x="308.60" y="462.50" font-size="9.8" text-anchor="end" textLength="9.50" lengthAdjust="spacingAndGlyphs" fill="#222">20</text>
<line x1="312.10" y1="438.40" x2="315.50" y2="438.40" stroke="#111" stroke-width="1.0"/>
<text x="308.60" y="441.30" font-size="9.8" text-anchor="end" textLength="9.50" lengthAdjust="spacingAndGlyphs" fill="#222">40</text>
<line x1="312.10" y1="417.20" x2="315.50" y2="417.20" stroke="#111" stroke-width="1.0"/>
<text x="308.60" y="420.10" font-size="9.8" text-anchor="end" textLength="9.50" lengthAdjust="spacingAndGlyphs" fill="#222">60</text>
<line x1="312.10" y1="396.00" x2="315.50" y2="396.00" stroke="#111" stroke-width="1.0"/>
<text x="308.60" y="398.90" font-size="9.8" text-anchor="end" textLength="9.50" lengthAdjust="spacingAndGlyphs" fill="#222">80</text>
<line x1="313.60" y1="476.56" x2="315.50" y2="476.56" stroke="#111" stroke-width="1.0"/>
<line x1="313.60" y1="472.32" x2="315.50" y2="472.32" stroke="#111" stroke-width="1.0"/>
<line x1="313.60" y1="468.08" x2="315.50" y2="468.08" stroke="#111" stroke-width="1.0"/>
<line x1="313.60" y1="463.84" x2="315.50" y2="463.84" stroke="#111" stroke-width="1.0"/>
<line x1="313.60" y1="455.36" x2="315.50" y2="455.36" stroke="#111" stroke-width="1.0"/>
<line x1="313.60" y1="451.12" x2="315.50" y2="451.12" stroke="#111" stroke-width="1.0"/>
<line x1="313.60" y1="446.88" x2="315.50" y2="446.88" stroke="#111" stroke-width="1.0"/>
<line x1="313.60" y1="442.64" x2="315.50" y2="442.64" stroke="#111" stroke-width="1.0"/>
<line x1="313.60" y1="434.16" x2="315.50" y2="434.16" stroke="#111" stroke-width="1.0"/>
<line x1="313.60" y1="429.92" x2="315.50" y2="429.92" stroke="#111" stroke-width="1.0"/>
<line x1="313.60" y1="425.68" x2="315.50" y2="425.68" stroke="#111" stroke-width="1.0"/>
<line x1="313.60" y1="421.44" x2="315.50" y2="421.44" stroke="#111" stroke-width="1.0"/>
<line x1="313.60" y1="412.96" x2="315.50" y2="412.96" stroke="#111" stroke-width="1.0"/>
<line x1="313.60" y1="408.72" x2="315.50" y2="408.72" stroke="#111" stroke-width="1.0"/>
<line x1="313.60" y1="404.48" x2="315.50" y2="404.48" stroke="#111" stroke-width="1.0"/>
<line x1="313.60" y1="400.24" x2="315.50" y2="400.24" stroke="#111" stroke-width="1.0"/>
<line x1="313.60" y1="391.76" x2="315.50" y2="391.76" stroke="#111" stroke-width="1.0"/>
<line x1="313.60" y1="387.52" x2="315.50" y2="387.52" stroke="#111" stroke-width="1.0"/>
<line x1="315.50" y1="480.80" x2="315.50" y2="484.10" stroke="#111" stroke-width="1.0"/>
<line x1="335.73" y1="480.80" x2="335.73" y2="484.10" stroke="#111" stroke-width="1.0"/>
<line x1="355.96" y1="480.80" x2="355.96" y2="484.10" stroke="#111" stroke-width="1.0"/>
<line x1="376.18" y1="480.80" x2="376.18" y2="484.10" stroke="#111" stroke-width="1.0"/>
<line x1="396.41" y1="480.80" x2="396.41" y2="484.10" stroke="#111" stroke-width="1.0"/>
<line x1="416.64" y1="480.80" x2="416.64" y2="484.10" stroke="#111" stroke-width="1.0"/>
<line x1="436.87" y1="480.80" x2="436.87" y2="484.10" stroke="#111" stroke-width="1.0"/>
<line x1="457.10" y1="480.80" x2="457.10" y2="484.10" stroke="#111" stroke-width="1.0"/>
<line x1="325.61" y1="480.80" x2="325.61" y2="482.60" stroke="#111" stroke-width="1.0"/>
<line x1="345.84" y1="480.80" x2="345.84" y2="482.60" stroke="#111" stroke-width="1.0"/>
<line x1="366.07" y1="480.80" x2="366.07" y2="482.60" stroke="#111" stroke-width="1.0"/>
<line x1="386.30" y1="480.80" x2="386.30" y2="482.60" stroke="#111" stroke-width="1.0"/>
<line x1="406.53" y1="480.80" x2="406.53" y2="482.60" stroke="#111" stroke-width="1.0"/>
<line x1="426.75" y1="480.80" x2="426.75" y2="482.60" stroke="#111" stroke-width="1.0"/>
<line x1="446.98" y1="480.80" x2="446.98" y2="482.60" stroke="#111" stroke-width="1.0"/>
<text x="315.50" y="494.80" font-size="9.8" text-anchor="middle" textLength="4.75" lengthAdjust="spacingAndGlyphs" fill="#222">0</text>
<text x="335.73" y="494.80" font-size="9.8" text-anchor="middle" textLength="4.75" lengthAdjust="spacingAndGlyphs" fill="#222">2</text>
<text x="355.96" y="494.80" font-size="9.8" text-anchor="middle" textLength="4.75" lengthAdjust="spacingAndGlyphs" fill="#222">4</text>
<text x="376.18" y="494.80" font-size="9.8" text-anchor="middle" textLength="4.75" lengthAdjust="spacingAndGlyphs" fill="#222">6</text>
<text x="396.41" y="494.80" font-size="9.8" text-anchor="middle" textLength="4.75" lengthAdjust="spacingAndGlyphs" fill="#222">8</text>
<text x="416.64" y="494.80" font-size="9.8" text-anchor="middle" textLength="9.50" lengthAdjust="spacingAndGlyphs" fill="#222">10</text>
<text x="436.87" y="494.80" font-size="9.8" text-anchor="middle" textLength="9.50" lengthAdjust="spacingAndGlyphs" fill="#222">12</text>
<text x="457.10" y="494.80" font-size="9.8" text-anchor="middle" textLength="9.50" lengthAdjust="spacingAndGlyphs" fill="#222">14</text>
<text x="358.30" y="509.40" font-size="10.2" textLength="59.60" lengthAdjust="spacingAndGlyphs" fill="#222">Days after injury</text>
<text transform="translate(280.30,432.50) rotate(-90)" x="0" y="0" font-size="9.9" text-anchor="middle" textLength="54.60" lengthAdjust="spacingAndGlyphs" fill="#222">Joint diameter</text>
<text transform="translate(292.70,432.10) rotate(-90)" x="0" y="0" font-size="9.9" text-anchor="middle" textLength="35.70" lengthAdjust="spacingAndGlyphs" fill="#222">% change</text>
<line x1="335.73" y1="440.52" x2="335.73" y2="423.98" stroke="#54a52b" stroke-width="0.9" stroke-opacity="0.85"/>
<line x1="333.43" y1="440.52" x2="338.03" y2="440.52" stroke="#54a52b" stroke-width="0.9" stroke-opacity="0.85"/>
<line x1="333.43" y1="423.98" x2="338.03" y2="423.98" stroke="#54a52b" stroke-width="0.9" stroke-opacity="0.85"/>
<line x1="355.96" y1="435.96" x2="355.96" y2="417.94" stroke="#54a52b" stroke-width="0.9" stroke-opacity="0.85"/>
<line x1="353.66" y1="435.96" x2="358.26" y2="435.96" stroke="#54a52b" stroke-width="0.9" stroke-opacity="0.85"/>
<line x1="353.66" y1="417.94" x2="358.26" y2="417.94" stroke="#54a52b" stroke-width="0.9" stroke-opacity="0.85"/>
<line x1="376.18" y1="441.90" x2="376.18" y2="423.03" stroke="#54a52b" stroke-width="0.9" stroke-opacity="0.85"/>
<line x1="373.88" y1="441.90" x2="378.48" y2="441.90" stroke="#54a52b" stroke-width="0.9" stroke-opacity="0.85"/>
<line x1="373.88" y1="423.03" x2="378.48" y2="423.03" stroke="#54a52b" stroke-width="0.9" stroke-opacity="0.85"/>
<line x1="396.41" y1="442.43" x2="396.41" y2="425.26" stroke="#54a52b" stroke-width="0.9" stroke-opacity="0.85"/>
<line x1="394.11" y1="442.43" x2="398.71" y2="442.43" stroke="#54a52b" stroke-width="0.9" stroke-opacity="0.85"/>
<line x1="394.11" y1="425.26" x2="398.71" y2="425.26" stroke="#54a52b" stroke-width="0.9" stroke-opacity="0.85"/>
<line x1="416.64" y1="444.55" x2="416.64" y2="436.49" stroke="#54a52b" stroke-width="0.9" stroke-opacity="0.85"/>
<line x1="414.34" y1="444.55" x2="418.94" y2="444.55" stroke="#54a52b" stroke-width="0.9" stroke-opacity="0.85"/>
<line x1="414.34" y1="436.49" x2="418.94" y2="436.49" stroke="#54a52b" stroke-width="0.9" stroke-opacity="0.85"/>
<line x1="436.87" y1="451.33" x2="436.87" y2="435.01" stroke="#54a52b" stroke-width="0.9" stroke-opacity="0.85"/>
<line x1="434.57" y1="451.33" x2="439.17" y2="451.33" stroke="#54a52b" stroke-width="0.9" stroke-opacity="0.85"/>
<line x1="434.57" y1="435.01" x2="439.17" y2="435.01" stroke="#54a52b" stroke-width="0.9" stroke-opacity="0.85"/>
<line x1="457.10" y1="453.24" x2="457.10" y2="443.70" stroke="#54a52b" stroke-width="0.9" stroke-opacity="0.85"/>
<line x1="454.80" y1="453.24" x2="459.40" y2="453.24" stroke="#54a52b" stroke-width="0.9" stroke-opacity="0.85"/>
<line x1="454.80" y1="443.70" x2="459.40" y2="443.70" stroke="#54a52b" stroke-width="0.9" stroke-opacity="0.85"/>
<line x1="335.73" y1="409.78" x2="335.73" y2="386.46" stroke="#1c3c7d" stroke-width="0.9" stroke-opacity="0.85"/>
<line x1="333.43" y1="409.78" x2="338.03" y2="409.78" stroke="#1c3c7d" stroke-width="0.9" stroke-opacity="0.85"/>
<line x1="333.43" y1="386.46" x2="338.03" y2="386.46" stroke="#1c3c7d" stroke-width="0.9" stroke-opacity="0.85"/>
<line x1="355.96" y1="416.14" x2="355.96" y2="384.87" stroke="#1c3c7d" stroke-width="0.9" stroke-opacity="0.85"/>
<line x1="353.66" y1="416.14" x2="358.26" y2="416.14" stroke="#1c3c7d" stroke-width="0.9" stroke-opacity="0.85"/>
<line x1="353.66" y1="384.87" x2="358.26" y2="384.87" stroke="#1c3c7d" stroke-width="0.9" stroke-opacity="0.85"/>
<line x1="376.18" y1="421.12" x2="376.18" y2="401.72" stroke="#1c3c7d" stroke-width="0.9" stroke-opacity="0.85"/>
<line x1="373.88" y1="421.12" x2="378.48" y2="421.12" stroke="#1c3c7d" stroke-width="0.9" stroke-opacity="0.85"/>
<line x1="373.88" y1="401.72" x2="378.48" y2="401.72" stroke="#1c3c7d" stroke-width="0.9" stroke-opacity="0.85"/>
<line x1="396.41" y1="419.53" x2="396.41" y2="406.39" stroke="#1c3c7d" stroke-width="0.9" stroke-opacity="0.85"/>
<line x1="394.11" y1="419.53" x2="398.71" y2="419.53" stroke="#1c3c7d" stroke-width="0.9" stroke-opacity="0.85"/>
<line x1="394.11" y1="406.39" x2="398.71" y2="406.39" stroke="#1c3c7d" stroke-width="0.9" stroke-opacity="0.85"/>
<line x1="416.64" y1="428.75" x2="416.64" y2="415.72" stroke="#1c3c7d" stroke-width="0.9" stroke-opacity="0.85"/>
<line x1="414.34" y1="428.75" x2="418.94" y2="428.75" stroke="#1c3c7d" stroke-width="0.9" stroke-opacity="0.85"/>
<line x1="414.34" y1="415.72" x2="418.94" y2="415.72" stroke="#1c3c7d" stroke-width="0.9" stroke-opacity="0.85"/>
<line x1="436.87" y1="448.15" x2="436.87" y2="435.54" stroke="#1c3c7d" stroke-width="0.9" stroke-opacity="0.85"/>
<line x1="434.57" y1="448.15" x2="439.17" y2="448.15" stroke="#1c3c7d" stroke-width="0.9" stroke-opacity="0.85"/>
<line x1="434.57" y1="435.54" x2="439.17" y2="435.54" stroke="#1c3c7d" stroke-width="0.9" stroke-opacity="0.85"/>
<line x1="457.10" y1="449.95" x2="457.10" y2="437.66" stroke="#1c3c7d" stroke-width="0.9" stroke-opacity="0.85"/>
<line x1="454.80" y1="449.95" x2="459.40" y2="449.95" stroke="#1c3c7d" stroke-width="0.9" stroke-opacity="0.85"/>
<line x1="454.80" y1="437.66" x2="459.40" y2="437.66" stroke="#1c3c7d" stroke-width="0.9" stroke-opacity="0.85"/>
<line x1="335.73" y1="423.98" x2="335.73" y2="386.25" stroke="#a5002c" stroke-width="0.9" stroke-opacity="0.85"/>
<line x1="333.43" y1="423.98" x2="338.03" y2="423.98" stroke="#a5002c" stroke-width="0.9" stroke-opacity="0.85"/>
<line x1="333.43" y1="386.25" x2="338.03" y2="386.25" stroke="#a5002c" stroke-width="0.9" stroke-opacity="0.85"/>
<line x1="355.96" y1="416.88" x2="355.96" y2="388.90" stroke="#a5002c" stroke-width="0.9" stroke-opacity="0.85"/>
<line x1="353.66" y1="416.88" x2="358.26" y2="416.88" stroke="#a5002c" stroke-width="0.9" stroke-opacity="0.85"/>
<line x1="353.66" y1="388.90" x2="358.26" y2="388.90" stroke="#a5002c" stroke-width="0.9" stroke-opacity="0.85"/>
<line x1="376.18" y1="423.35" x2="376.18" y2="394.62" stroke="#a5002c" stroke-width="0.9" stroke-opacity="0.85"/>
<line x1="373.88" y1="423.35" x2="378.48" y2="423.35" stroke="#a5002c" stroke-width="0.9" stroke-opacity="0.85"/>
<line x1="373.88" y1="394.62" x2="378.48" y2="394.62" stroke="#a5002c" stroke-width="0.9" stroke-opacity="0.85"/>
<line x1="396.41" y1="424.73" x2="396.41" y2="398.65" stroke="#a5002c" stroke-width="0.9" stroke-opacity="0.85"/>
<line x1="394.11" y1="424.73" x2="398.71" y2="424.73" stroke="#a5002c" stroke-width="0.9" stroke-opacity="0.85"/>
<line x1="394.11" y1="398.65" x2="398.71" y2="398.65" stroke="#a5002c" stroke-width="0.9" stroke-opacity="0.85"/>
<line x1="416.64" y1="427.27" x2="416.64" y2="400.35" stroke="#a5002c" stroke-width="0.9" stroke-opacity="0.85"/>
<line x1="414.34" y1="427.27" x2="418.94" y2="427.27" stroke="#a5002c" stroke-width="0.9" stroke-opacity="0.85"/>
<line x1="414.34" y1="400.35" x2="418.94" y2="400.35" stroke="#a5002c" stroke-width="0.9" stroke-opacity="0.85"/>
<line x1="436.87" y1="444.23" x2="436.87" y2="415.50" stroke="#a5002c" stroke-width="0.9" stroke-opacity="0.85"/>
<line x1="434.57" y1="444.23" x2="439.17" y2="444.23" stroke="#a5002c" stroke-width="0.9" stroke-opacity="0.85"/>
<line x1="434.57" y1="415.50" x2="439.17" y2="415.50" stroke="#a5002c" stroke-width="0.9" stroke-opacity="0.85"/>
<line x1="457.10" y1="455.15" x2="457.10" y2="426.85" stroke="#a5002c" stroke-width="0.9" stroke-opacity="0.85"/>
<line x1="454.80" y1="455.15" x2="459.40" y2="455.15" stroke="#a5002c" stroke-width="0.9" stroke-opacity="0.85"/>
<line x1="454.80" y1="426.85" x2="459.40" y2="426.85" stroke="#a5002c" stroke-width="0.9" stroke-opacity="0.85"/>
<polyline points="315.50,480.80 335.73,432.15 355.96,426.95 376.18,432.46 396.41,434.48 416.64,441.26 436.87,443.06 457.10,448.15" fill="none" stroke="#54a52b" stroke-width="1.4" stroke-linejoin="round"/>
<polygon points="335.73,429.85 337.93,433.75 333.53,433.75" fill="#54a52b"/>
<polygon points="355.96,424.65 358.16,428.55 353.76,428.55" fill="#54a52b"/>
<polygon points="376.18,430.16 378.38,434.06 373.98,434.06" fill="#54a52b"/>
<polygon points="396.41,432.18 398.61,436.08 394.21,436.08" fill="#54a52b"/>
<polygon points="416.64,438.96 418.84,442.86 414.44,442.86" fill="#54a52b"/>
<polygon points="436.87,440.76 439.07,444.66 434.67,444.66" fill="#54a52b"/>
<polygon points="457.10,445.85 459.30,449.75 454.90,449.75" fill="#54a52b"/>
<polyline points="315.50,480.80 335.73,391.34 355.96,400.35 376.18,411.58 396.41,413.17 416.64,422.18 436.87,442.22 457.10,443.59" fill="none" stroke="#1c3c7d" stroke-width="1.4" stroke-linejoin="round"/>
<rect x="333.73" y="389.34" width="4" height="4" fill="#1c3c7d"/>
<rect x="353.96" y="398.35" width="4" height="4" fill="#1c3c7d"/>
<rect x="374.18" y="409.58" width="4" height="4" fill="#1c3c7d"/>
<rect x="394.41" y="411.17" width="4" height="4" fill="#1c3c7d"/>
<rect x="414.64" y="420.18" width="4" height="4" fill="#1c3c7d"/>
<rect x="434.87" y="440.22" width="4" height="4" fill="#1c3c7d"/>
<rect x="455.10" y="441.59" width="4" height="4" fill="#1c3c7d"/>
<polyline points="315.50,480.80 335.73,405.12 355.96,402.15 376.18,409.14 396.41,412.11 416.64,413.81 436.87,430.13 457.10,440.84" fill="none" stroke="#a5002c" stroke-width="1.4" stroke-linejoin="round"/>
<circle cx="335.73" cy="405.12" r="2.2" fill="#a5002c"/>
<circle cx="355.96" cy="402.15" r="2.2" fill="#a5002c"/>
<circle cx="376.18" cy="409.14" r="2.2" fill="#a5002c"/>
<circle cx="396.41" cy="412.11" r="2.2" fill="#a5002c"/>
<circle cx="416.64" cy="413.81" r="2.2" fill="#a5002c"/>
<circle cx="436.87" cy="430.13" r="2.2" fill="#a5002c"/>
<circle cx="457.10" cy="440.84" r="2.2" fill="#a5002c"/>
<polygon points="337.95,423.40 337.35,424.27 336.33,424.57 336.98,425.42 336.95,426.48 337.95,426.12 338.95,426.48 338.92,425.42 339.57,424.57 338.55,424.27" fill="#1a1a1a"/>
<polygon points="341.65,423.40 341.05,424.27 340.03,424.57 340.68,425.42 340.65,426.48 341.65,426.12 342.65,426.48 342.62,425.42 343.27,424.57 342.25,424.27" fill="#1a1a1a"/>
<polygon points="398.80,426.80 398.20,427.67 397.18,427.97 397.83,428.82 397.80,429.88 398.80,429.52 399.80,429.88 399.77,428.82 400.42,427.97 399.40,427.67" fill="#1a1a1a"/>
<line x1="47.50" y1="674.80" x2="47.50" y2="576.70" stroke="#111" stroke-width="1.15"/>
<line x1="44.10" y1="674.80" x2="195.50" y2="674.80" stroke="#111" stroke-width="1.2"/>
<line x1="44.10" y1="674.80" x2="47.50" y2="674.80" stroke="#111" stroke-width="1.0"/>
<text x="41.20" y="677.70" font-size="9.8" text-anchor="end" textLength="4.75" lengthAdjust="spacingAndGlyphs" fill="#222">0</text>
<line x1="44.10" y1="651.00" x2="47.50" y2="651.00" stroke="#111" stroke-width="1.0"/>
<text x="41.20" y="653.90" font-size="9.8" text-anchor="end" textLength="4.75" lengthAdjust="spacingAndGlyphs" fill="#222">1</text>
<line x1="44.10" y1="627.20" x2="47.50" y2="627.20" stroke="#111" stroke-width="1.0"/>
<text x="41.20" y="630.10" font-size="9.8" text-anchor="end" textLength="4.75" lengthAdjust="spacingAndGlyphs" fill="#222">2</text>
<line x1="44.10" y1="603.40" x2="47.50" y2="603.40" stroke="#111" stroke-width="1.0"/>
<text x="41.20" y="606.30" font-size="9.8" text-anchor="end" textLength="4.75" lengthAdjust="spacingAndGlyphs" fill="#222">3</text>
<line x1="44.10" y1="579.60" x2="47.50" y2="579.60" stroke="#111" stroke-width="1.0"/>
<text x="41.20" y="582.50" font-size="9.8" text-anchor="end" textLength="4.75" lengthAdjust="spacingAndGlyphs" fill="#222">4</text>
<line x1="45.60" y1="662.90" x2="47.50" y2="662.90" stroke="#111" stroke-width="1.0"/>
<line x1="45.60" y1="639.10" x2="47.50" y2="639.10" stroke="#111" stroke-width="1.0"/>
<line x1="45.60" y1="615.30" x2="47.50" y2="615.30" stroke="#111" stroke-width="1.0"/>
<line x1="45.60" y1="591.50" x2="47.50" y2="591.50" stroke="#111" stroke-width="1.0"/>
<line x1="47.50" y1="674.80" x2="47.50" y2="678.10" stroke="#111" stroke-width="1.0"/>
<line x1="66.74" y1="674.80" x2="66.74" y2="678.10" stroke="#111" stroke-width="1.0"/>
<line x1="85.98" y1="674.80" x2="85.98" y2="678.10" stroke="#111" stroke-width="1.0"/>
<line x1="105.23" y1="674.80" x2="105.23" y2="678.10" stroke="#111" stroke-width="1.0"/>
<line x1="124.47" y1="674.80" x2="124.47" y2="678.10" stroke="#111" stroke-width="1.0"/>
<line x1="143.71" y1="674.80" x2="143.71" y2="678.10" stroke="#111" stroke-width="1.0"/>
<line x1="162.95" y1="674.80" x2="162.95" y2="678.10" stroke="#111" stroke-width="1.0"/>
<line x1="182.19" y1="674.80" x2="182.19" y2="678.10" stroke="#111" stroke-width="1.0"/>
<line x1="57.12" y1="674.80" x2="57.12" y2="676.60" stroke="#111" stroke-width="1.0"/>
<line x1="76.36" y1="674.80" x2="76.36" y2="676.60" stroke="#111" stroke-width="1.0"/>
<line x1="95.61" y1="674.80" x2="95.61" y2="676.60" stroke="#111" stroke-width="1.0"/>
<line x1="114.85" y1="674.80" x2="114.85" y2="676.60" stroke="#111" stroke-width="1.0"/>
<line x1="134.09" y1="674.80" x2="134.09" y2="676.60" stroke="#111" stroke-width="1.0"/>
<line x1="153.33" y1="674.80" x2="153.33" y2="676.60" stroke="#111" stroke-width="1.0"/>
<line x1="172.57" y1="674.80" x2="172.57" y2="676.60" stroke="#111" stroke-width="1.0"/>
<line x1="191.81" y1="674.80" x2="191.81" y2="676.60" stroke="#111" stroke-width="1.0"/>
<text x="47.50" y="688.80" font-size="9.8" text-anchor="middle" textLength="4.75" lengthAdjust="spacingAndGlyphs" fill="#222">0</text>
<text x="66.74" y="688.80" font-size="9.8" text-anchor="middle" textLength="4.75" lengthAdjust="spacingAndGlyphs" fill="#222">2</text>
<text x="85.98" y="688.80" font-size="9.8" text-anchor="middle" textLength="4.75" lengthAdjust="spacingAndGlyphs" fill="#222">4</text>
<text x="105.23" y="688.80" font-size="9.8" text-anchor="middle" textLength="4.75" lengthAdjust="spacingAndGlyphs" fill="#222">6</text>
<text x="124.47" y="688.80" font-size="9.8" text-anchor="middle" textLength="4.75" lengthAdjust="spacingAndGlyphs" fill="#222">8</text>
<text x="143.71" y="688.80" font-size="9.8" text-anchor="middle" textLength="9.50" lengthAdjust="spacingAndGlyphs" fill="#222">10</text>
<text x="162.95" y="688.80" font-size="9.8" text-anchor="middle" textLength="9.50" lengthAdjust="spacingAndGlyphs" fill="#222">12</text>
<text x="182.19" y="688.80" font-size="9.8" text-anchor="middle" textLength="9.50" lengthAdjust="spacingAndGlyphs" fill="#222">14</text>
<text x="90.30" y="703.50" font-size="10.2" textLength="59.30" lengthAdjust="spacingAndGlyphs" fill="#222">Days after injury</text>
<text transform="translate(29.60,625.75) rotate(-90)" x="0" y="0" font-size="9.9" text-anchor="middle" textLength="79.50" lengthAdjust="spacingAndGlyphs" fill="#222">Visual bleeding score</text>
<line x1="66.74" y1="611.49" x2="66.74" y2="603.64" stroke="#a5002c" stroke-width="0.9" stroke-opacity="0.85"/>
<line x1="64.44" y1="611.49" x2="69.04" y2="611.49" stroke="#a5002c" stroke-width="0.9" stroke-opacity="0.85"/>
<line x1="64.44" y1="603.64" x2="69.04" y2="603.64" stroke="#a5002c" stroke-width="0.9" stroke-opacity="0.85"/>
<line x1="85.98" y1="621.01" x2="85.98" y2="610.30" stroke="#a5002c" stroke-width="0.9" stroke-opacity="0.85"/>
<line x1="83.68" y1="621.01" x2="88.28" y2="621.01" stroke="#a5002c" stroke-width="0.9" stroke-opacity="0.85"/>
<line x1="83.68" y1="610.30" x2="88.28" y2="610.30" stroke="#a5002c" stroke-width="0.9" stroke-opacity="0.85"/>
<line x1="105.23" y1="630.77" x2="105.23" y2="616.25" stroke="#a5002c" stroke-width="0.9" stroke-opacity="0.85"/>
<line x1="102.93" y1="630.77" x2="107.53" y2="630.77" stroke="#a5002c" stroke-width="0.9" stroke-opacity="0.85"/>
<line x1="102.93" y1="616.25" x2="107.53" y2="616.25" stroke="#a5002c" stroke-width="0.9" stroke-opacity="0.85"/>
<line x1="124.47" y1="649.57" x2="124.47" y2="629.34" stroke="#a5002c" stroke-width="0.9" stroke-opacity="0.85"/>
<line x1="122.17" y1="649.57" x2="126.77" y2="649.57" stroke="#a5002c" stroke-width="0.9" stroke-opacity="0.85"/>
<line x1="122.17" y1="629.34" x2="126.77" y2="629.34" stroke="#a5002c" stroke-width="0.9" stroke-opacity="0.85"/>
<line x1="143.71" y1="667.18" x2="143.71" y2="651.24" stroke="#a5002c" stroke-width="0.9" stroke-opacity="0.85"/>
<line x1="141.41" y1="667.18" x2="146.01" y2="667.18" stroke="#a5002c" stroke-width="0.9" stroke-opacity="0.85"/>
<line x1="141.41" y1="651.24" x2="146.01" y2="651.24" stroke="#a5002c" stroke-width="0.9" stroke-opacity="0.85"/>
<line x1="162.95" y1="674.80" x2="162.95" y2="666.95" stroke="#a5002c" stroke-width="0.9" stroke-opacity="0.85"/>
<line x1="160.65" y1="674.80" x2="165.25" y2="674.80" stroke="#a5002c" stroke-width="0.9" stroke-opacity="0.85"/>
<line x1="160.65" y1="666.95" x2="165.25" y2="666.95" stroke="#a5002c" stroke-width="0.9" stroke-opacity="0.85"/>
<line x1="182.19" y1="674.80" x2="182.19" y2="666.95" stroke="#a5002c" stroke-width="0.9" stroke-opacity="0.85"/>
<line x1="179.89" y1="674.80" x2="184.49" y2="674.80" stroke="#a5002c" stroke-width="0.9" stroke-opacity="0.85"/>
<line x1="179.89" y1="666.95" x2="184.49" y2="666.95" stroke="#a5002c" stroke-width="0.9" stroke-opacity="0.85"/>
<line x1="66.74" y1="643.15" x2="66.74" y2="627.68" stroke="#1c3c7d" stroke-width="0.9" stroke-opacity="0.85"/>
<line x1="64.44" y1="643.15" x2="69.04" y2="643.15" stroke="#1c3c7d" stroke-width="0.9" stroke-opacity="0.85"/>
<line x1="64.44" y1="627.68" x2="69.04" y2="627.68" stroke="#1c3c7d" stroke-width="0.9" stroke-opacity="0.85"/>
<line x1="85.98" y1="667.66" x2="85.98" y2="651.48" stroke="#1c3c7d" stroke-width="0.9" stroke-opacity="0.85"/>
<line x1="83.68" y1="667.66" x2="88.28" y2="667.66" stroke="#1c3c7d" stroke-width="0.9" stroke-opacity="0.85"/>
<line x1="83.68" y1="651.48" x2="88.28" y2="651.48" stroke="#1c3c7d" stroke-width="0.9" stroke-opacity="0.85"/>
<line x1="105.23" y1="672.90" x2="105.23" y2="660.52" stroke="#1c3c7d" stroke-width="0.9" stroke-opacity="0.85"/>
<line x1="102.93" y1="672.90" x2="107.53" y2="672.90" stroke="#1c3c7d" stroke-width="0.9" stroke-opacity="0.85"/>
<line x1="102.93" y1="660.52" x2="107.53" y2="660.52" stroke="#1c3c7d" stroke-width="0.9" stroke-opacity="0.85"/>
<line x1="66.74" y1="647.19" x2="66.74" y2="631.25" stroke="#54a52b" stroke-width="0.9" stroke-opacity="0.85"/>
<line x1="64.44" y1="647.19" x2="69.04" y2="647.19" stroke="#54a52b" stroke-width="0.9" stroke-opacity="0.85"/>
<line x1="64.44" y1="631.25" x2="69.04" y2="631.25" stroke="#54a52b" stroke-width="0.9" stroke-opacity="0.85"/>
<line x1="85.98" y1="670.99" x2="85.98" y2="654.81" stroke="#54a52b" stroke-width="0.9" stroke-opacity="0.85"/>
<line x1="83.68" y1="670.99" x2="88.28" y2="670.99" stroke="#54a52b" stroke-width="0.9" stroke-opacity="0.85"/>
<line x1="83.68" y1="654.81" x2="88.28" y2="654.81" stroke="#54a52b" stroke-width="0.9" stroke-opacity="0.85"/>
<line x1="105.23" y1="674.80" x2="105.23" y2="659.09" stroke="#54a52b" stroke-width="0.9" stroke-opacity="0.85"/>
<line x1="102.93" y1="674.80" x2="107.53" y2="674.80" stroke="#54a52b" stroke-width="0.9" stroke-opacity="0.85"/>
<line x1="102.93" y1="659.09" x2="107.53" y2="659.09" stroke="#54a52b" stroke-width="0.9" stroke-opacity="0.85"/>
<line x1="124.47" y1="674.80" x2="124.47" y2="666.95" stroke="#54a52b" stroke-width="0.9" stroke-opacity="0.85"/>
<line x1="122.17" y1="674.80" x2="126.77" y2="674.80" stroke="#54a52b" stroke-width="0.9" stroke-opacity="0.85"/>
<line x1="122.17" y1="666.95" x2="126.77" y2="666.95" stroke="#54a52b" stroke-width="0.9" stroke-opacity="0.85"/>
<polyline points="47.50,674.80 66.74,607.68 85.98,615.54 105.23,623.39 124.47,639.34 143.71,659.09 162.95,671.47 182.19,671.47" fill="none" stroke="#a5002c" stroke-width="1.4" stroke-linejoin="round"/>
<circle cx="66.74" cy="607.68" r="2.2" fill="#a5002c"/>
<circle cx="85.98" cy="615.54" r="2.2" fill="#a5002c"/>
<circle cx="105.23" cy="623.39" r="2.2" fill="#a5002c"/>
<circle cx="124.47" cy="639.34" r="2.2" fill="#a5002c"/>
<circle cx="143.71" cy="659.09" r="2.2" fill="#a5002c"/>
<circle cx="162.95" cy="671.47" r="2.2" fill="#a5002c"/>
<circle cx="182.19" cy="671.47" r="2.2" fill="#a5002c"/>
<polyline points="47.50,674.80 66.74,635.29 85.98,659.81 105.23,666.71 124.47,674.80 143.71,674.80 162.95,674.80 182.19,674.80" fill="none" stroke="#1c3c7d" stroke-width="1.4" stroke-linejoin="round"/>
<rect x="64.74" y="633.29" width="4" height="4" fill="#1c3c7d"/>
<rect x="83.98" y="657.81" width="4" height="4" fill="#1c3c7d"/>
<rect x="103.23" y="664.71" width="4" height="4" fill="#1c3c7d"/>
<rect x="122.47" y="672.80" width="4" height="4" fill="#1c3c7d"/>
<rect x="141.71" y="672.80" width="4" height="4" fill="#1c3c7d"/>
<rect x="160.95" y="672.80" width="4" height="4" fill="#1c3c7d"/>
<rect x="180.19" y="672.80" width="4" height="4" fill="#1c3c7d"/>
<polyline points="47.50,674.80 66.74,638.86 85.98,663.38 105.23,666.95 124.47,670.75 143.71,674.80 162.95,674.80 182.19,674.80" fill="none" stroke="#54a52b" stroke-width="1.4" stroke-linejoin="round"/>
<polygon points="66.74,636.56 68.94,640.46 64.54,640.46" fill="#54a52b"/>
<polygon points="85.98,661.08 88.18,664.98 83.78,664.98" fill="#54a52b"/>
<polygon points="105.23,664.65 107.43,668.55 103.03,668.55" fill="#54a52b"/>
<polygon points="124.47,668.45 126.67,672.35 122.27,672.35" fill="#54a52b"/>
<polygon points="143.71,672.50 145.91,676.40 141.51,676.40" fill="#54a52b"/>
<polygon points="162.95,672.50 165.15,676.40 160.75,676.40" fill="#54a52b"/>
<polygon points="182.19,672.50 184.39,676.40 179.99,676.40" fill="#54a52b"/>
<polygon points="63.20,621.70 62.60,622.57 61.58,622.87 62.23,623.72 62.20,624.78 63.20,624.42 64.20,624.78 64.17,623.72 64.82,622.87 63.80,622.57" fill="#1a1a1a"/>
<polygon points="66.90,621.70 66.30,622.57 65.28,622.87 65.93,623.72 65.90,624.78 66.90,624.42 67.90,624.78 67.87,623.72 68.52,622.87 67.50,622.57" fill="#1a1a1a"/>
<polygon points="70.60,621.70 70.00,622.57 68.98,622.87 69.63,623.72 69.60,624.78 70.60,624.42 71.60,624.78 71.57,623.72 72.22,622.87 71.20,622.57" fill="#1a1a1a"/>
<polygon points="82.50,645.50 81.90,646.37 80.88,646.67 81.53,647.52 81.50,648.58 82.50,648.22 83.50,648.58 83.47,647.52 84.12,646.67 83.10,646.37" fill="#1a1a1a"/>
<polygon points="86.20,645.50 85.60,646.37 84.58,646.67 85.23,647.52 85.20,648.58 86.20,648.22 87.20,648.58 87.17,647.52 87.82,646.67 86.80,646.37" fill="#1a1a1a"/>
<polygon points="89.90,645.50 89.30,646.37 88.28,646.67 88.93,647.52 88.90,648.58 89.90,648.22 90.90,648.58 90.87,647.52 91.52,646.67 90.50,646.37" fill="#1a1a1a"/>
<polygon points="101.50,653.20 100.90,654.07 99.88,654.37 100.53,655.22 100.50,656.28 101.50,655.92 102.50,656.28 102.47,655.22 103.12,654.37 102.10,654.07" fill="#1a1a1a"/>
<polygon points="105.20,653.20 104.60,654.07 103.58,654.37 104.23,655.22 104.20,656.28 105.20,655.92 106.20,656.28 106.17,655.22 106.82,654.37 105.80,654.07" fill="#1a1a1a"/>
<polygon points="108.90,653.20 108.30,654.07 107.28,654.37 107.93,655.22 107.90,656.28 108.90,655.92 109.90,656.28 109.87,655.22 110.52,654.37 109.50,654.07" fill="#1a1a1a"/>
<polygon points="121.00,661.00 120.40,661.87 119.38,662.17 120.03,663.02 120.00,664.08 121.00,663.72 122.00,664.08 121.97,663.02 122.62,662.17 121.60,661.87" fill="#1a1a1a"/>
<polygon points="124.70,661.00 124.10,661.87 123.08,662.17 123.73,663.02 123.70,664.08 124.70,663.72 125.70,664.08 125.67,663.02 126.32,662.17 125.30,661.87" fill="#1a1a1a"/>
<polygon points="128.40,661.00 127.80,661.87 126.78,662.17 127.43,663.02 127.40,664.08 128.40,663.72 129.40,664.08 129.37,663.02 130.02,662.17 129.00,661.87" fill="#1a1a1a"/>
<polygon points="143.70,668.60 143.10,669.47 142.08,669.77 142.73,670.62 142.70,671.68 143.70,671.32 144.70,671.68 144.67,670.62 145.32,669.77 144.30,669.47" fill="#1a1a1a"/>
<line x1="315.50" y1="675.00" x2="315.50" y2="570.00" stroke="#111" stroke-width="1.15"/>
<line x1="312.10" y1="675.00" x2="464.40" y2="675.00" stroke="#111" stroke-width="1.2"/>
<line x1="312.10" y1="675.00" x2="315.50" y2="675.00" stroke="#111" stroke-width="1.0"/>
<text x="308.60" y="677.90" font-size="9.8" text-anchor="end" textLength="4.75" lengthAdjust="spacingAndGlyphs" fill="#222">0</text>
<line x1="312.10" y1="651.82" x2="315.50" y2="651.82" stroke="#111" stroke-width="1.0"/>
<text x="308.60" y="654.72" font-size="9.8" text-anchor="end" textLength="9.50" lengthAdjust="spacingAndGlyphs" fill="#222">20</text>
<line x1="312.10" y1="628.64" x2="315.50" y2="628.64" stroke="#111" stroke-width="1.0"/>
<text x="308.60" y="631.54" font-size="9.8" text-anchor="end" textLength="9.50" lengthAdjust="spacingAndGlyphs" fill="#222">40</text>
<line x1="312.10" y1="605.46" x2="315.50" y2="605.46" stroke="#111" stroke-width="1.0"/>
<text x="308.60" y="608.36" font-size="9.8" text-anchor="end" textLength="9.50" lengthAdjust="spacingAndGlyphs" fill="#222">60</text>
<line x1="312.10" y1="582.28" x2="315.50" y2="582.28" stroke="#111" stroke-width="1.0"/>
<text x="308.60" y="585.18" font-size="9.8" text-anchor="end" textLength="9.50" lengthAdjust="spacingAndGlyphs" fill="#222">80</text>
<line x1="313.60" y1="670.36" x2="315.50" y2="670.36" stroke="#111" stroke-width="1.0"/>
<line x1="313.60" y1="665.73" x2="315.50" y2="665.73" stroke="#111" stroke-width="1.0"/>
<line x1="313.60" y1="661.09" x2="315.50" y2="661.09" stroke="#111" stroke-width="1.0"/>
<line x1="313.60" y1="656.46" x2="315.50" y2="656.46" stroke="#111" stroke-width="1.0"/>
<line x1="313.60" y1="647.18" x2="315.50" y2="647.18" stroke="#111" stroke-width="1.0"/>
<line x1="313.60" y1="642.55" x2="315.50" y2="642.55" stroke="#111" stroke-width="1.0"/>
<line x1="313.60" y1="637.91" x2="315.50" y2="637.91" stroke="#111" stroke-width="1.0"/>
<line x1="313.60" y1="633.28" x2="315.50" y2="633.28" stroke="#111" stroke-width="1.0"/>
<line x1="313.60" y1="624.00" x2="315.50" y2="624.00" stroke="#111" stroke-width="1.0"/>
<line x1="313.60" y1="619.37" x2="315.50" y2="619.37" stroke="#111" stroke-width="1.0"/>
<line x1="313.60" y1="614.73" x2="315.50" y2="614.73" stroke="#111" stroke-width="1.0"/>
<line x1="313.60" y1="610.10" x2="315.50" y2="610.10" stroke="#111" stroke-width="1.0"/>
<line x1="313.60" y1="600.82" x2="315.50" y2="600.82" stroke="#111" stroke-width="1.0"/>
<line x1="313.60" y1="596.19" x2="315.50" y2="596.19" stroke="#111" stroke-width="1.0"/>
<line x1="313.60" y1="591.55" x2="315.50" y2="591.55" stroke="#111" stroke-width="1.0"/>
<line x1="313.60" y1="586.92" x2="315.50" y2="586.92" stroke="#111" stroke-width="1.0"/>
<line x1="313.60" y1="577.64" x2="315.50" y2="577.64" stroke="#111" stroke-width="1.0"/>
<line x1="313.60" y1="573.01" x2="315.50" y2="573.01" stroke="#111" stroke-width="1.0"/>
<line x1="315.50" y1="675.00" x2="315.50" y2="678.30" stroke="#111" stroke-width="1.0"/>
<line x1="336.30" y1="675.00" x2="336.30" y2="678.30" stroke="#111" stroke-width="1.0"/>
<line x1="357.10" y1="675.00" x2="357.10" y2="678.30" stroke="#111" stroke-width="1.0"/>
<line x1="377.90" y1="675.00" x2="377.90" y2="678.30" stroke="#111" stroke-width="1.0"/>
<line x1="398.70" y1="675.00" x2="398.70" y2="678.30" stroke="#111" stroke-width="1.0"/>
<line x1="419.50" y1="675.00" x2="419.50" y2="678.30" stroke="#111" stroke-width="1.0"/>
<line x1="440.30" y1="675.00" x2="440.30" y2="678.30" stroke="#111" stroke-width="1.0"/>
<line x1="461.10" y1="675.00" x2="461.10" y2="678.30" stroke="#111" stroke-width="1.0"/>
<line x1="325.90" y1="675.00" x2="325.90" y2="676.80" stroke="#111" stroke-width="1.0"/>
<line x1="346.70" y1="675.00" x2="346.70" y2="676.80" stroke="#111" stroke-width="1.0"/>
<line x1="367.50" y1="675.00" x2="367.50" y2="676.80" stroke="#111" stroke-width="1.0"/>
<line x1="388.30" y1="675.00" x2="388.30" y2="676.80" stroke="#111" stroke-width="1.0"/>
<line x1="409.10" y1="675.00" x2="409.10" y2="676.80" stroke="#111" stroke-width="1.0"/>
<line x1="429.90" y1="675.00" x2="429.90" y2="676.80" stroke="#111" stroke-width="1.0"/>
<line x1="450.70" y1="675.00" x2="450.70" y2="676.80" stroke="#111" stroke-width="1.0"/>
<text x="315.50" y="689.00" font-size="9.8" text-anchor="middle" textLength="4.75" lengthAdjust="spacingAndGlyphs" fill="#222">0</text>
<text x="336.30" y="689.00" font-size="9.8" text-anchor="middle" textLength="4.75" lengthAdjust="spacingAndGlyphs" fill="#222">2</text>
<text x="357.10" y="689.00" font-size="9.8" text-anchor="middle" textLength="4.75" lengthAdjust="spacingAndGlyphs" fill="#222">4</text>
<text x="377.90" y="689.00" font-size="9.8" text-anchor="middle" textLength="4.75" lengthAdjust="spacingAndGlyphs" fill="#222">6</text>
<text x="398.70" y="689.00" font-size="9.8" text-anchor="middle" textLength="4.75" lengthAdjust="spacingAndGlyphs" fill="#222">8</text>
<text x="419.50" y="689.00" font-size="9.8" text-anchor="middle" textLength="9.50" lengthAdjust="spacingAndGlyphs" fill="#222">10</text>
<text x="440.30" y="689.00" font-size="9.8" text-anchor="middle" textLength="9.50" lengthAdjust="spacingAndGlyphs" fill="#222">12</text>
<text x="461.10" y="689.00" font-size="9.8" text-anchor="middle" textLength="9.50" lengthAdjust="spacingAndGlyphs" fill="#222">14</text>
<text x="360.20" y="703.50" font-size="10.2" textLength="59.60" lengthAdjust="spacingAndGlyphs" fill="#222">Days after injury</text>
<text transform="translate(280.30,622.00) rotate(-90)" x="0" y="0" font-size="9.9" text-anchor="middle" textLength="54.70" lengthAdjust="spacingAndGlyphs" fill="#222">Joint diameter</text>
<text transform="translate(292.70,622.40) rotate(-90)" x="0" y="0" font-size="9.9" text-anchor="middle" textLength="35.40" lengthAdjust="spacingAndGlyphs" fill="#222">% change</text>
<line x1="336.30" y1="622.38" x2="336.30" y2="586.68" stroke="#a5002c" stroke-width="0.9" stroke-opacity="0.85"/>
<line x1="334.00" y1="622.38" x2="338.60" y2="622.38" stroke="#a5002c" stroke-width="0.9" stroke-opacity="0.85"/>
<line x1="334.00" y1="586.68" x2="338.60" y2="586.68" stroke="#a5002c" stroke-width="0.9" stroke-opacity="0.85"/>
<line x1="357.10" y1="621.45" x2="357.10" y2="604.53" stroke="#a5002c" stroke-width="0.9" stroke-opacity="0.85"/>
<line x1="354.80" y1="621.45" x2="359.40" y2="621.45" stroke="#a5002c" stroke-width="0.9" stroke-opacity="0.85"/>
<line x1="354.80" y1="604.53" x2="359.40" y2="604.53" stroke="#a5002c" stroke-width="0.9" stroke-opacity="0.85"/>
<line x1="377.90" y1="637.22" x2="377.90" y2="604.53" stroke="#a5002c" stroke-width="0.9" stroke-opacity="0.85"/>
<line x1="375.60" y1="637.22" x2="380.20" y2="637.22" stroke="#a5002c" stroke-width="0.9" stroke-opacity="0.85"/>
<line x1="375.60" y1="604.53" x2="380.20" y2="604.53" stroke="#a5002c" stroke-width="0.9" stroke-opacity="0.85"/>
<line x1="398.70" y1="640.23" x2="398.70" y2="614.73" stroke="#a5002c" stroke-width="0.9" stroke-opacity="0.85"/>
<line x1="396.40" y1="640.23" x2="401.00" y2="640.23" stroke="#a5002c" stroke-width="0.9" stroke-opacity="0.85"/>
<line x1="396.40" y1="614.73" x2="401.00" y2="614.73" stroke="#a5002c" stroke-width="0.9" stroke-opacity="0.85"/>
<line x1="419.50" y1="655.76" x2="419.50" y2="634.55" stroke="#a5002c" stroke-width="0.9" stroke-opacity="0.85"/>
<line x1="417.20" y1="655.76" x2="421.80" y2="655.76" stroke="#a5002c" stroke-width="0.9" stroke-opacity="0.85"/>
<line x1="417.20" y1="634.55" x2="421.80" y2="634.55" stroke="#a5002c" stroke-width="0.9" stroke-opacity="0.85"/>
<line x1="440.30" y1="659.82" x2="440.30" y2="639.53" stroke="#a5002c" stroke-width="0.9" stroke-opacity="0.85"/>
<line x1="438.00" y1="659.82" x2="442.60" y2="659.82" stroke="#a5002c" stroke-width="0.9" stroke-opacity="0.85"/>
<line x1="438.00" y1="639.53" x2="442.60" y2="639.53" stroke="#a5002c" stroke-width="0.9" stroke-opacity="0.85"/>
<line x1="461.10" y1="656.69" x2="461.10" y2="636.52" stroke="#a5002c" stroke-width="0.9" stroke-opacity="0.85"/>
<line x1="458.80" y1="656.69" x2="463.40" y2="656.69" stroke="#a5002c" stroke-width="0.9" stroke-opacity="0.85"/>
<line x1="458.80" y1="636.52" x2="463.40" y2="636.52" stroke="#a5002c" stroke-width="0.9" stroke-opacity="0.85"/>
<line x1="336.30" y1="663.53" x2="336.30" y2="657.50" stroke="#54a52b" stroke-width="0.9" stroke-opacity="0.85"/>
<line x1="334.00" y1="663.53" x2="338.60" y2="663.53" stroke="#54a52b" stroke-width="0.9" stroke-opacity="0.85"/>
<line x1="334.00" y1="657.50" x2="338.60" y2="657.50" stroke="#54a52b" stroke-width="0.9" stroke-opacity="0.85"/>
<line x1="357.10" y1="663.87" x2="357.10" y2="650.89" stroke="#54a52b" stroke-width="0.9" stroke-opacity="0.85"/>
<line x1="354.80" y1="663.87" x2="359.40" y2="663.87" stroke="#54a52b" stroke-width="0.9" stroke-opacity="0.85"/>
<line x1="354.80" y1="650.89" x2="359.40" y2="650.89" stroke="#54a52b" stroke-width="0.9" stroke-opacity="0.85"/>
<line x1="377.90" y1="671.29" x2="377.90" y2="664.57" stroke="#54a52b" stroke-width="0.9" stroke-opacity="0.85"/>
<line x1="375.60" y1="671.29" x2="380.20" y2="671.29" stroke="#54a52b" stroke-width="0.9" stroke-opacity="0.85"/>
<line x1="375.60" y1="664.57" x2="380.20" y2="664.57" stroke="#54a52b" stroke-width="0.9" stroke-opacity="0.85"/>
<line x1="419.50" y1="671.29" x2="419.50" y2="664.34" stroke="#54a52b" stroke-width="0.9" stroke-opacity="0.85"/>
<line x1="417.20" y1="671.29" x2="421.80" y2="671.29" stroke="#54a52b" stroke-width="0.9" stroke-opacity="0.85"/>
<line x1="417.20" y1="664.34" x2="421.80" y2="664.34" stroke="#54a52b" stroke-width="0.9" stroke-opacity="0.85"/>
<line x1="461.10" y1="670.36" x2="461.10" y2="663.29" stroke="#54a52b" stroke-width="0.9" stroke-opacity="0.85"/>
<line x1="458.80" y1="670.36" x2="463.40" y2="670.36" stroke="#54a52b" stroke-width="0.9" stroke-opacity="0.85"/>
<line x1="458.80" y1="663.29" x2="463.40" y2="663.29" stroke="#54a52b" stroke-width="0.9" stroke-opacity="0.85"/>
<line x1="377.90" y1="668.74" x2="377.90" y2="663.87" stroke="#1c3c7d" stroke-width="0.9" stroke-opacity="0.85"/>
<line x1="375.60" y1="668.74" x2="380.20" y2="668.74" stroke="#1c3c7d" stroke-width="0.9" stroke-opacity="0.85"/>
<line x1="375.60" y1="663.87" x2="380.20" y2="663.87" stroke="#1c3c7d" stroke-width="0.9" stroke-opacity="0.85"/>
<line x1="398.70" y1="669.78" x2="398.70" y2="666.54" stroke="#1c3c7d" stroke-width="0.9" stroke-opacity="0.85"/>
<line x1="396.40" y1="669.78" x2="401.00" y2="669.78" stroke="#1c3c7d" stroke-width="0.9" stroke-opacity="0.85"/>
<line x1="396.40" y1="666.54" x2="401.00" y2="666.54" stroke="#1c3c7d" stroke-width="0.9" stroke-opacity="0.85"/>
<line x1="419.50" y1="669.78" x2="419.50" y2="666.54" stroke="#1c3c7d" stroke-width="0.9" stroke-opacity="0.85"/>
<line x1="417.20" y1="669.78" x2="421.80" y2="669.78" stroke="#1c3c7d" stroke-width="0.9" stroke-opacity="0.85"/>
<line x1="417.20" y1="666.54" x2="421.80" y2="666.54" stroke="#1c3c7d" stroke-width="0.9" stroke-opacity="0.85"/>
<polyline points="315.50,675.00 336.30,604.88 357.10,612.99 377.90,620.99 398.70,627.48 419.50,645.10 440.30,649.62 461.10,646.72" fill="none" stroke="#a5002c" stroke-width="1.4" stroke-linejoin="round"/>
<circle cx="336.30" cy="604.88" r="2.2" fill="#a5002c"/>
<circle cx="357.10" cy="612.99" r="2.2" fill="#a5002c"/>
<circle cx="377.90" cy="620.99" r="2.2" fill="#a5002c"/>
<circle cx="398.70" cy="627.48" r="2.2" fill="#a5002c"/>
<circle cx="419.50" cy="645.10" r="2.2" fill="#a5002c"/>
<circle cx="440.30" cy="649.62" r="2.2" fill="#a5002c"/>
<circle cx="461.10" cy="646.72" r="2.2" fill="#a5002c"/>
<polyline points="315.50,675.00 336.30,660.74 357.10,658.19 377.90,667.12 398.70,669.78 419.50,668.16 440.30,668.97 461.10,666.89" fill="none" stroke="#54a52b" stroke-width="1.4" stroke-linejoin="round"/>
<polygon points="336.30,658.44 338.50,662.34 334.10,662.34" fill="#54a52b"/>
<polygon points="357.10,655.89 359.30,659.79 354.90,659.79" fill="#54a52b"/>
<polygon points="377.90,664.82 380.10,668.72 375.70,668.72" fill="#54a52b"/>
<polygon points="398.70,667.48 400.90,671.38 396.50,671.38" fill="#54a52b"/>
<polygon points="419.50,665.86 421.70,669.76 417.30,669.76" fill="#54a52b"/>
<polygon points="440.30,666.67 442.50,670.57 438.10,670.57" fill="#54a52b"/>
<polygon points="461.10,664.59 463.30,668.49 458.90,668.49" fill="#54a52b"/>
<polyline points="315.50,675.00 336.30,668.74 357.10,668.51 377.90,666.42 398.70,668.16 419.50,668.16 440.30,668.97 461.10,670.71" fill="none" stroke="#1c3c7d" stroke-width="1.4" stroke-linejoin="round"/>
<rect x="334.30" y="666.74" width="4" height="4" fill="#1c3c7d"/>
<rect x="355.10" y="666.51" width="4" height="4" fill="#1c3c7d"/>
<rect x="375.90" y="664.42" width="4" height="4" fill="#1c3c7d"/>
<rect x="396.70" y="666.16" width="4" height="4" fill="#1c3c7d"/>
<rect x="417.50" y="666.16" width="4" height="4" fill="#1c3c7d"/>
<rect x="438.30" y="666.97" width="4" height="4" fill="#1c3c7d"/>
<rect x="459.10" y="668.71" width="4" height="4" fill="#1c3c7d"/>
<polygon points="332.70,651.80 332.10,652.67 331.08,652.97 331.73,653.82 331.70,654.88 332.70,654.52 333.70,654.88 333.67,653.82 334.32,652.97 333.30,652.67" fill="#1a1a1a"/>
<polygon points="336.40,651.80 335.80,652.67 334.78,652.97 335.43,653.82 335.40,654.88 336.40,654.52 337.40,654.88 337.37,653.82 338.02,652.97 337.00,652.67" fill="#1a1a1a"/>
<polygon points="340.10,651.80 339.50,652.67 338.48,652.97 339.13,653.82 339.10,654.88 340.10,654.52 341.10,654.88 341.07,653.82 341.72,652.97 340.70,652.67" fill="#1a1a1a"/>
<polygon points="353.40,645.20 352.80,646.07 351.78,646.37 352.43,647.22 352.40,648.28 353.40,647.92 354.40,648.28 354.37,647.22 355.02,646.37 354.00,646.07" fill="#1a1a1a"/>
<polygon points="357.10,645.20 356.50,646.07 355.48,646.37 356.13,647.22 356.10,648.28 357.10,647.92 358.10,648.28 358.07,647.22 358.72,646.37 357.70,646.07" fill="#1a1a1a"/>
<polygon points="360.80,645.20 360.20,646.07 359.18,646.37 359.83,647.22 359.80,648.28 360.80,647.92 361.80,648.28 361.77,647.22 362.42,646.37 361.40,646.07" fill="#1a1a1a"/>
<polygon points="374.10,657.90 373.50,658.77 372.48,659.07 373.13,659.92 373.10,660.98 374.10,660.62 375.10,660.98 375.07,659.92 375.72,659.07 374.70,658.77" fill="#1a1a1a"/>
<polygon points="377.80,657.90 377.20,658.77 376.18,659.07 376.83,659.92 376.80,660.98 377.80,660.62 378.80,660.98 378.77,659.92 379.42,659.07 378.40,658.77" fill="#1a1a1a"/>
<polygon points="381.50,657.90 380.90,658.77 379.88,659.07 380.53,659.92 380.50,660.98 381.50,660.62 382.50,660.98 382.47,659.92 383.12,659.07 382.10,658.77" fill="#1a1a1a"/>
<polygon points="397.05,659.20 396.45,660.07 395.43,660.37 396.08,661.22 396.05,662.28 397.05,661.92 398.05,662.28 398.02,661.22 398.67,660.37 397.65,660.07" fill="#1a1a1a"/>
<polygon points="400.75,659.20 400.15,660.07 399.13,660.37 399.78,661.22 399.75,662.28 400.75,661.92 401.75,662.28 401.72,661.22 402.37,660.37 401.35,660.07" fill="#1a1a1a"/>
<text x="8.20" y="18.20" font-size="13.3" font-weight="bold" fill="#000">A</text>
<text x="258.30" y="18.40" font-size="13.3" font-weight="bold" fill="#000">B</text>
<text x="8.30" y="183.10" font-size="13.3" font-weight="bold" fill="#000">C</text>
<text x="258.80" y="183.00" font-size="13.3" font-weight="bold" fill="#000">D</text>
<text x="9.40" y="358.00" font-size="13.3" textLength="7.50" lengthAdjust="spacingAndGlyphs" font-weight="bold" fill="#000">E</text>
<text x="259.80" y="358.10" font-size="13.3" textLength="6.90" lengthAdjust="spacingAndGlyphs" font-weight="bold" fill="#000">F</text>
<text x="8.00" y="539.70" font-size="13.3" font-weight="bold" fill="#000">G</text>
<text x="258.80" y="545.00" font-size="13.3" font-weight="bold" fill="#000">H</text>
<text x="191.00" y="63.90" font-size="8.9" textLength="15.90" lengthAdjust="spacingAndGlyphs" fill="#222">FVIII</text>
<line x1="207.40" y1="58.80" x2="208.60" y2="58.80" stroke="#333" stroke-width="0.8"/>
<line x1="208.80" y1="60.50" x2="211.00" y2="56.40" stroke="#333" stroke-width="0.8"/>
<line x1="211.70" y1="58.80" x2="213.10" y2="58.80" stroke="#333" stroke-width="0.8"/>
<text x="186.50" y="78.90" font-size="8.9" textLength="20.10" lengthAdjust="spacingAndGlyphs" fill="#222">EPCR</text>
<line x1="207.25" y1="73.70" x2="209.75" y2="73.70" stroke="#222" stroke-width="0.9"/>
<line x1="208.50" y1="72.45" x2="208.50" y2="74.95" stroke="#222" stroke-width="0.9"/>
<line x1="211.25" y1="73.70" x2="213.75" y2="73.70" stroke="#222" stroke-width="0.9"/>
<line x1="212.50" y1="72.45" x2="212.50" y2="74.95" stroke="#222" stroke-width="0.9"/>
<text x="214.30" y="78.90" font-size="8.9" textLength="16.20" lengthAdjust="spacingAndGlyphs" fill="#222">FVIII</text>
<line x1="231.00" y1="73.80" x2="232.20" y2="73.80" stroke="#333" stroke-width="0.8"/>
<line x1="232.40" y1="75.50" x2="234.60" y2="71.40" stroke="#333" stroke-width="0.8"/>
<line x1="235.30" y1="73.80" x2="236.70" y2="73.80" stroke="#333" stroke-width="0.8"/>
<text x="192.40" y="116.50" font-size="8.9" textLength="19.90" lengthAdjust="spacingAndGlyphs" fill="#222">EPCR</text>
<line x1="212.80" y1="111.40" x2="214.00" y2="111.40" stroke="#333" stroke-width="0.8"/>
<line x1="214.20" y1="113.10" x2="216.40" y2="109.00" stroke="#333" stroke-width="0.8"/>
<line x1="217.10" y1="111.40" x2="218.50" y2="111.40" stroke="#333" stroke-width="0.8"/>
<text x="219.00" y="116.50" font-size="8.9" textLength="16.20" lengthAdjust="spacingAndGlyphs" fill="#222">FVIII</text>
<line x1="235.70" y1="111.40" x2="236.90" y2="111.40" stroke="#333" stroke-width="0.8"/>
<line x1="237.10" y1="113.10" x2="239.30" y2="109.00" stroke="#333" stroke-width="0.8"/>
<line x1="240.00" y1="111.40" x2="241.40" y2="111.40" stroke="#333" stroke-width="0.8"/>
<text x="193.50" y="128.60" font-size="8.9" textLength="12.10" lengthAdjust="spacingAndGlyphs" fill="#222">WT</text>
<text x="459.80" y="74.80" font-size="8.9" textLength="15.70" lengthAdjust="spacingAndGlyphs" fill="#222">FVIII</text>
<line x1="476.30" y1="69.70" x2="477.50" y2="69.70" stroke="#333" stroke-width="0.8"/>
<line x1="477.70" y1="71.40" x2="479.90" y2="67.30" stroke="#333" stroke-width="0.8"/>
<line x1="480.60" y1="69.70" x2="482.00" y2="69.70" stroke="#333" stroke-width="0.8"/>
<text x="459.80" y="86.80" font-size="8.9" textLength="19.70" lengthAdjust="spacingAndGlyphs" fill="#222">EPCR</text>
<line x1="480.45" y1="81.60" x2="482.95" y2="81.60" stroke="#222" stroke-width="0.9"/>
<line x1="481.70" y1="80.35" x2="481.70" y2="82.85" stroke="#222" stroke-width="0.9"/>
<line x1="484.45" y1="81.60" x2="486.95" y2="81.60" stroke="#222" stroke-width="0.9"/>
<line x1="485.70" y1="80.35" x2="485.70" y2="82.85" stroke="#222" stroke-width="0.9"/>
<text x="487.50" y="86.80" font-size="8.9" textLength="15.90" lengthAdjust="spacingAndGlyphs" fill="#222">FVIII</text>
<line x1="504.20" y1="81.70" x2="505.40" y2="81.70" stroke="#333" stroke-width="0.8"/>
<line x1="505.60" y1="83.40" x2="507.80" y2="79.30" stroke="#333" stroke-width="0.8"/>
<line x1="508.50" y1="81.70" x2="509.90" y2="81.70" stroke="#333" stroke-width="0.8"/>
<text x="459.80" y="102.10" font-size="8.9" textLength="19.70" lengthAdjust="spacingAndGlyphs" fill="#222">EPCR</text>
<line x1="480.30" y1="97.00" x2="481.50" y2="97.00" stroke="#333" stroke-width="0.8"/>
<line x1="481.70" y1="98.70" x2="483.90" y2="94.60" stroke="#333" stroke-width="0.8"/>
<line x1="484.60" y1="97.00" x2="486.00" y2="97.00" stroke="#333" stroke-width="0.8"/>
<text x="486.10" y="102.10" font-size="8.9" textLength="16.00" lengthAdjust="spacingAndGlyphs" fill="#222">FVIII</text>
<line x1="502.80" y1="97.00" x2="504.00" y2="97.00" stroke="#333" stroke-width="0.8"/>
<line x1="504.20" y1="98.70" x2="506.40" y2="94.60" stroke="#333" stroke-width="0.8"/>
<line x1="507.10" y1="97.00" x2="508.50" y2="97.00" stroke="#333" stroke-width="0.8"/>
<text x="460.80" y="120.60" font-size="8.9" textLength="12.40" lengthAdjust="spacingAndGlyphs" fill="#222">WT</text>
<text x="104.10" y="201.90" font-size="10.3" textLength="20.30" lengthAdjust="spacingAndGlyphs" fill="#222">FVIII</text>
<line x1="124.90" y1="196.70" x2="126.70" y2="196.70" stroke="#333" stroke-width="0.85"/>
<line x1="127.20" y1="198.80" x2="130.10" y2="192.70" stroke="#333" stroke-width="0.85"/>
<line x1="130.80" y1="196.70" x2="132.80" y2="196.70" stroke="#333" stroke-width="0.85"/>
<text x="374.10" y="201.70" font-size="10.3" textLength="19.60" lengthAdjust="spacingAndGlyphs" fill="#222">FVIII</text>
<line x1="394.39" y1="196.50" x2="396.15" y2="196.50" stroke="#333" stroke-width="0.85"/>
<line x1="396.63" y1="198.60" x2="399.47" y2="192.50" stroke="#333" stroke-width="0.85"/>
<line x1="400.15" y1="196.50" x2="402.10" y2="196.50" stroke="#333" stroke-width="0.85"/>
<text x="86.90" y="376.90" font-size="10.3" textLength="25.90" lengthAdjust="spacingAndGlyphs" fill="#222">EPCR</text>
<line x1="113.90" y1="371.60" x2="117.70" y2="371.60" stroke="#222" stroke-width="1.0"/>
<line x1="115.80" y1="369.70" x2="115.80" y2="373.50" stroke="#222" stroke-width="1.0"/>
<line x1="119.30" y1="371.60" x2="123.10" y2="371.60" stroke="#222" stroke-width="1.0"/>
<line x1="121.20" y1="369.70" x2="121.20" y2="373.50" stroke="#222" stroke-width="1.0"/>
<text x="124.60" y="376.90" font-size="10.3" textLength="19.20" lengthAdjust="spacingAndGlyphs" fill="#222">FVIII</text>
<line x1="145.10" y1="371.70" x2="146.90" y2="371.70" stroke="#333" stroke-width="0.85"/>
<line x1="147.40" y1="373.80" x2="150.30" y2="367.70" stroke="#333" stroke-width="0.85"/>
<line x1="151.00" y1="371.70" x2="153.00" y2="371.70" stroke="#333" stroke-width="0.85"/>
<text x="355.40" y="376.60" font-size="10.3" textLength="25.50" lengthAdjust="spacingAndGlyphs" fill="#222">EPCR</text>
<line x1="382.10" y1="371.30" x2="385.90" y2="371.30" stroke="#222" stroke-width="1.0"/>
<line x1="384.00" y1="369.40" x2="384.00" y2="373.20" stroke="#222" stroke-width="1.0"/>
<line x1="387.50" y1="371.30" x2="391.30" y2="371.30" stroke="#222" stroke-width="1.0"/>
<line x1="389.40" y1="369.40" x2="389.40" y2="373.20" stroke="#222" stroke-width="1.0"/>
<text x="392.80" y="376.60" font-size="10.3" textLength="19.50" lengthAdjust="spacingAndGlyphs" fill="#222">FVIII</text>
<line x1="413.19" y1="371.40" x2="414.92" y2="371.40" stroke="#333" stroke-width="0.85"/>
<line x1="415.40" y1="373.50" x2="418.20" y2="367.40" stroke="#333" stroke-width="0.85"/>
<line x1="418.87" y1="371.40" x2="420.80" y2="371.40" stroke="#333" stroke-width="0.85"/>
<text x="88.10" y="563.00" font-size="10.3" textLength="25.90" lengthAdjust="spacingAndGlyphs" fill="#222">EPCR</text>
<line x1="115.14" y1="557.80" x2="116.66" y2="557.80" stroke="#333" stroke-width="0.85"/>
<line x1="117.08" y1="559.90" x2="119.52" y2="553.80" stroke="#333" stroke-width="0.85"/>
<line x1="120.11" y1="557.80" x2="121.80" y2="557.80" stroke="#333" stroke-width="0.85"/>
<text x="123.80" y="563.00" font-size="10.3" textLength="19.10" lengthAdjust="spacingAndGlyphs" fill="#222">FVIII</text>
<line x1="144.09" y1="557.80" x2="145.85" y2="557.80" stroke="#333" stroke-width="0.85"/>
<line x1="146.33" y1="559.90" x2="149.17" y2="553.80" stroke="#333" stroke-width="0.85"/>
<line x1="149.85" y1="557.80" x2="151.80" y2="557.80" stroke="#333" stroke-width="0.85"/>
<text x="358.50" y="563.00" font-size="10.3" textLength="25.50" lengthAdjust="spacingAndGlyphs" fill="#222">EPCR</text>
<line x1="385.15" y1="557.80" x2="386.71" y2="557.80" stroke="#333" stroke-width="0.85"/>
<line x1="387.14" y1="559.90" x2="389.66" y2="553.80" stroke="#333" stroke-width="0.85"/>
<line x1="390.27" y1="557.80" x2="392.00" y2="557.80" stroke="#333" stroke-width="0.85"/>
<text x="394.00" y="563.00" font-size="10.3" textLength="19.10" lengthAdjust="spacingAndGlyphs" fill="#222">FVIII</text>
<line x1="413.98" y1="557.80" x2="415.69" y2="557.80" stroke="#333" stroke-width="0.85"/>
<line x1="416.17" y1="559.90" x2="418.93" y2="553.80" stroke="#333" stroke-width="0.85"/>
<line x1="419.60" y1="557.80" x2="421.50" y2="557.80" stroke="#333" stroke-width="0.85"/>
<text x="173.90" y="212.60" font-size="8.2" textLength="17.80" lengthAdjust="spacingAndGlyphs" fill="#222">FVIIa</text>
<text x="173.90" y="223.00" font-size="8.2" textLength="21.20" lengthAdjust="spacingAndGlyphs" fill="#222">doses</text>
<text x="457.90" y="212.90" font-size="8.2" textLength="18.00" lengthAdjust="spacingAndGlyphs" fill="#222">FVIIa</text>
<text x="457.90" y="223.40" font-size="8.2" textLength="21.20" lengthAdjust="spacingAndGlyphs" fill="#222">doses</text>
<text x="173.80" y="391.50" font-size="8.2" textLength="18.20" lengthAdjust="spacingAndGlyphs" fill="#222">FVIIa</text>
<text x="173.80" y="401.90" font-size="8.2" textLength="21.60" lengthAdjust="spacingAndGlyphs" fill="#222">doses</text>
<text x="459.60" y="384.60" font-size="8.2" textLength="17.90" lengthAdjust="spacingAndGlyphs" fill="#222">FVIIa</text>
<text x="459.60" y="395.20" font-size="8.2" textLength="21.30" lengthAdjust="spacingAndGlyphs" fill="#222">doses</text>
<text x="174.00" y="585.50" font-size="8.2" textLength="18.10" lengthAdjust="spacingAndGlyphs" fill="#222">FVIIa</text>
<text x="174.00" y="595.80" font-size="8.2" textLength="21.10" lengthAdjust="spacingAndGlyphs" fill="#222">doses</text>
<text x="459.80" y="578.70" font-size="8.2" textLength="17.50" lengthAdjust="spacingAndGlyphs" fill="#222">FVIIa</text>
<text x="459.80" y="588.90" font-size="8.2" textLength="21.40" lengthAdjust="spacingAndGlyphs" fill="#222">doses</text>
<text x="182.60" y="246.70" font-size="8.4" fill="#222">1</text>
<text x="182.30" y="255.80" font-size="8.4" fill="#222">0</text>
<text x="182.40" y="270.90" font-size="8.4" fill="#222">3</text>
<text x="466.20" y="251.10" font-size="8.4" fill="#222">0</text>
<text x="466.20" y="262.80" font-size="8.4" fill="#222">1</text>
<text x="466.20" y="279.20" font-size="8.4" fill="#222">3</text>
<text x="185.80" y="436.20" font-size="8.4" fill="#222">0</text>
<text x="186.00" y="454.40" font-size="8.4" fill="#222">1</text>
<text x="185.80" y="477.90" font-size="8.4" fill="#222">3</text>
<text x="468.00" y="439.70" font-size="8.4" fill="#222">0</text>
<text x="468.00" y="451.70" font-size="8.4" fill="#222">1</text>
<text x="468.00" y="459.90" font-size="8.4" fill="#222">3</text>
<text x="186.90" y="670.80" font-size="8.4" fill="#222">0</text>
<text x="197.50" y="678.20" font-size="8.4" textLength="10.30" lengthAdjust="spacingAndGlyphs" fill="#222">1,3</text>
<text x="467.70" y="648.70" font-size="8.4" fill="#222">0</text>
<text x="468.60" y="673.40" font-size="8.4" textLength="10.30" lengthAdjust="spacingAndGlyphs" fill="#222">1,3</text>
<rect x="0.5" y="0.5" width="519" height="713" fill="none" stroke="#000" stroke-width="1"/>
</svg>
</body></html>
